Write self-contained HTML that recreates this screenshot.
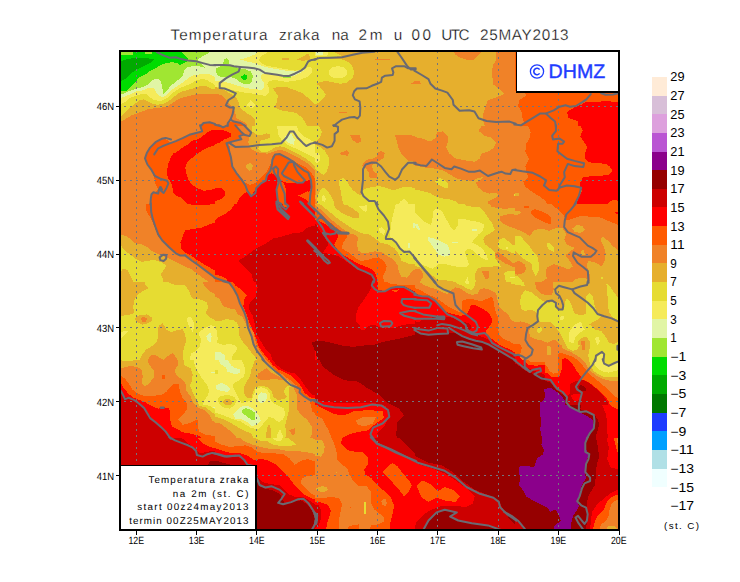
<!DOCTYPE html>
<html><head><meta charset="utf-8"><title>Temperatura zraka na 2m</title>
<style>html,body{margin:0;padding:0;background:#fff}svg{display:block}text{font-family:"Liberation Sans",sans-serif;fill:#000}</style></head>
<body>
<svg width="740" height="582" viewBox="0 0 740 582" shape-rendering="crispEdges">
<rect width="740" height="582" fill="#fff"/>
<defs>
<clipPath id="plot"><rect x="120" y="51" width="499" height="479"/></clipPath>
<clipPath id="c0"><rect x="115" y="48" width="100" height="78"/></clipPath>
<clipPath id="c1"><rect x="215" y="48" width="100" height="78"/></clipPath>
<clipPath id="c2"><rect x="315" y="48" width="100" height="78"/></clipPath>
<clipPath id="c3"><rect x="415" y="48" width="100" height="78"/></clipPath>
<clipPath id="c4"><rect x="515" y="48" width="110" height="78"/></clipPath>
<clipPath id="c5"><rect x="115" y="126" width="100" height="78"/></clipPath>
<clipPath id="c6"><rect x="215" y="126" width="100" height="78"/></clipPath>
<clipPath id="c7"><rect x="315" y="126" width="100" height="78"/></clipPath>
<clipPath id="c8"><rect x="415" y="126" width="100" height="78"/></clipPath>
<clipPath id="c9"><rect x="515" y="126" width="110" height="78"/></clipPath>
<clipPath id="c10"><rect x="115" y="204" width="100" height="78"/></clipPath>
<clipPath id="c11"><rect x="215" y="204" width="100" height="78"/></clipPath>
<clipPath id="c12"><rect x="315" y="204" width="100" height="78"/></clipPath>
<clipPath id="c13"><rect x="415" y="204" width="100" height="78"/></clipPath>
<clipPath id="c14"><rect x="515" y="204" width="110" height="78"/></clipPath>
<clipPath id="c15"><rect x="115" y="282" width="100" height="78"/></clipPath>
<clipPath id="c16"><rect x="215" y="282" width="100" height="78"/></clipPath>
<clipPath id="c17"><rect x="315" y="282" width="100" height="78"/></clipPath>
<clipPath id="c18"><rect x="415" y="282" width="100" height="78"/></clipPath>
<clipPath id="c19"><rect x="515" y="282" width="110" height="78"/></clipPath>
<clipPath id="c20"><rect x="115" y="360" width="100" height="78"/></clipPath>
<clipPath id="c21"><rect x="215" y="360" width="100" height="78"/></clipPath>
<clipPath id="c22"><rect x="315" y="360" width="200" height="172"/></clipPath>
<clipPath id="c23"><rect x="515" y="360" width="110" height="78"/></clipPath>
<clipPath id="c24"><rect x="115" y="438" width="100" height="94"/></clipPath>
<clipPath id="c25"><rect x="215" y="438" width="100" height="94"/></clipPath>
<clipPath id="c26"><rect x="515" y="438" width="110" height="94"/></clipPath>
<clipPath id="c27"><rect x="315" y="438" width="100" height="94"/></clipPath>
<clipPath id="c28"><rect x="545" y="345" width="75" height="60"/></clipPath>
</defs>
<g clip-path="url(#plot)">
<g clip-path="url(#c0)"><rect x="115" y="48" width="100" height="78" fill="#F08228"/>
<polygon fill="#E6AF2D" points="113.6,121.6 121.1,121.6 125.8,118.9 131.2,115.6 136.6,113.5 142,111.5 147.4,109.5 155.5,108.1 162.3,107.5 167.7,106.1 171.8,103.4 175.8,100.7 181.2,98 186.6,96.6 192,95.3 197.4,93.9 204.2,93.7 216.4,93.9 216.4,46.6 113.6,46.6"/>
<polygon fill="#E6DC32" points="113.6,116.2 121.1,116.2 125.8,111.5 129.9,107.5 135.3,103.4 140,100 144.1,99.4 148.1,101.4 151.5,103.4 156.9,104.8 162.3,104.1 167,102.1 171.8,98.7 175.8,95.3 180.5,91.9 185.3,90.6 190.7,89.2 196.1,87.2 201.5,85.8 206.9,86.5 210.9,88.5 216.4,89.9 216.4,46.6 113.6,46.6"/>
<polygon fill="#F5EB5A" points="113.6,104.1 121.1,104.1 125.8,101.4 129.9,98 135.3,96 142,93.9 147.4,94.6 150.8,98 154.2,100 159.6,101 163.6,100 168.4,97.3 171.8,93.9 175.8,90.6 180.5,87.9 185.3,85.8 190.7,83.8 196.1,80.4 201.5,79.1 206.9,79.8 210.9,82.5 216.4,85.6 216.4,46.6 113.6,46.6"/>
<polygon fill="#E1F5A5" points="113.6,98 121.1,98 125.8,96 131.2,93.9 136.6,91.2 142,90.6 147.4,88.5 151.5,87.9 154.2,88.5 156.2,92.6 158.2,95.3 163,97.3 167,94.6 170.4,91.2 174.5,87.9 178.5,85.2 183.9,81.8 188,78.4 192,75.7 197.4,74.8 202.8,73.9 209.6,74.4 216.4,77.5 216.4,46.6 113.6,46.6"/>
<polygon fill="#A0E632" points="113.6,94.6 121.1,94.6 127.2,91.9 132.6,89.9 137.3,88.5 142,87.2 146.8,85.2 151.5,81.1 154.2,79.1 158.2,78.4 160.9,81.1 162.3,87.2 163.4,94.6 166.4,91.2 169.1,87.9 172.4,84.5 176.5,81.1 181.2,77.7 183.2,74.4 183.9,70.3 186.6,67.6 192,66.2 196.8,65.6 201.5,66.9 204.9,67.6 202.2,64.2 197.7,62.2 198.1,59.5 202.8,56.1 208.2,53.4 210.3,50.7 210.3,46.6 113.6,46.6"/>
<polygon fill="#00DC00" points="113.6,55.8 132.6,54.8 133.9,50.7 145.4,50.7 145.4,54.5 151.5,54.1 151.8,50.7 181.2,50.7 184.6,55.4 188,58.8 186.6,61.5 182.6,63.5 179.9,64.9 176.5,62.9 171.8,62.2 167,62.9 162.3,64.2 157.6,66.9 152.8,69.6 148.1,72.3 144.7,75 139.3,77.1 136.6,80.4 133.9,83.8 129.9,87.9 125.8,91.2 121.1,91.5 113.6,91.5"/>
<polygon fill="#00AA00" points="113.6,61.5 121.1,61.5 125.8,59.5 132.6,58.1 142,57.7 154.2,59.1 151.5,62.2 146.1,64.9 140.7,67.6 135.3,70.3 129.9,74.4 125.8,78.4 121.1,81.1 113.6,81.1"/>
<polygon fill="#FF5A00" points="201.5,127.7 202.8,123.7 208.2,122.3 215,124.4 216.4,127.7"/>
</g>
<g clip-path="url(#c1)"><rect x="215" y="48" width="100" height="78" fill="#E6DC32"/>
<polygon fill="#E6AF2D" points="273.1,88.5 278.5,86.5 285.3,86.5 292,89.2 297.4,91.2 302.8,93.3 308.2,98 316.4,105.4 316.4,127.7 308.2,127.7 302.8,118.3 296.1,112.9 288,111.5 279.9,110.2 274.5,107.5 277.2,102.1 277.8,95.3 274.5,91.2"/>
<polygon fill="#E6AF2D" points="297.4,59.5 302.8,56.8 308.2,53.4 310.3,56.8 309.6,59.5 304.2,60.8 299.5,60.4"/>
<polygon fill="#E6AF2D" points="281.9,58.1 288.6,58.1 288.6,59.9 281.9,59.9"/>
<polygon fill="#E6AF2D" points="213.6,86.5 220.4,88.5 225.8,91 232.6,95 236.6,98 238.6,102.1 239.3,106.1 242,109.5 247.4,113.5 252.8,116.9 255.5,119.6 254.2,127.7 213.6,127.7"/>
<polygon fill="#F08228" points="213.6,93.9 220.4,94.6 225.1,98 229.9,104.8 233.2,107.5 235.3,112.9 236.6,118.3 242,121 246.8,123.7 248.1,127.7 213.6,127.7"/>
<polygon fill="#FF5A00" points="227.8,127.7 228.5,122.3 233.9,121.6 240.7,123 245.4,125.7 246.1,127.7"/>
<polygon fill="#FF5A00" points="213.6,123.7 219.1,123.7 220.4,127.7 213.6,127.7"/>
<polygon fill="#F5EB5A" points="213.6,86.5 220.4,87.2 225.8,88.5 232.6,90.2 239.3,91.5 246.1,92.9 254.2,93.7 260.9,95 265.3,96 268.4,93.9 269.3,88.5 267,84.5 269.1,81.1 274.5,79.8 281.2,81.1 286.6,81.8 293.4,81.1 300.1,79.8 306.9,77.1 311.6,73 312.6,68.9 309.6,66.6 305.5,68.3 301.5,69.9 294.7,70.7 288,69.6 279.9,68 271.8,66.6 265,65.3 260.9,62.9 258.9,59.5 261.6,56.1 265.7,53.4 268.4,50.7 213.6,50.7"/>
<polygon fill="#F5EB5A" points="250.8,100 255.5,104.8 252.2,108.8 246.8,105.4"/>
<polygon fill="#E1F5A5" points="213.6,80.4 220.4,81.1 227.2,82.5 233.9,84.5 240.7,86.5 247.4,88.3 255.5,89.2 261.6,89.9 264.3,87.2 263.6,82.5 260.9,78.4 261.6,75 265,73 271.8,74.4 278.5,75.7 285.3,77.1 290.7,77.1 296.1,75 301.5,72.3 304.9,69.6 301.5,69.6 294.7,71.2 288,71 279.9,69.6 271.8,68.3 265,66.9 259.6,64.9 254.2,63.1 247.4,61.5 240,59.5 247.4,57.5 254.2,54.8 257.6,52.1 257.6,50.7 213.6,50.7"/>
<polygon fill="#A0E632" points="223.1,63.5 224.5,59.5 226.5,58.1 228.5,60.2 229.2,63.5"/>
<polygon fill="#A0E632" points="216.4,68.3 220.4,66.2 227.2,65.6 233.9,66.2 239.3,68.3 246.1,69.6 250.8,71.6 252.8,75.7 252.2,81.1 248.8,84.2 244.1,84.2 239.3,81.8 235.3,78.4 229.9,77.1 225.8,77.1 221.8,77.1 217.7,75.7 216.1,72.3"/>
<polygon fill="#A0E632" points="282.6,76.1 290.7,76.1 290.7,78 282.6,77.5"/>
<polygon fill="#00DC00" points="240.7,77.1 244.1,74.4 246.8,75 247.2,78.4 244.7,80.2 242,79.1"/>
</g>
<g clip-path="url(#c2)"><rect x="315" y="48" width="100" height="78" fill="#E6AF2D"/>
<polygon fill="#E6DC32" points="313.6,58.8 323.1,58.8 332.6,58.8 342,59.5 348.8,62.2 352.8,66.9 354.2,73 352.2,78.4 346.8,82.5 340.7,83.8 333.9,82.5 327.2,81.1 320.4,81.8 317,83.8 313.6,84.5"/>
<polygon fill="#E6DC32" points="313.6,50.7 331.2,50.7 342,56.1 328.5,57.2 313.6,57.7"/>
<polygon fill="#F5EB5A" points="313.6,51.8 328.5,52.1 327.8,55.4 320.4,56.1 313.6,56.4"/>
<polygon fill="#E1F5A5" points="315.7,52.3 323.1,52.3 322.8,54.8 316.1,55"/>
<polygon fill="#F5EB5A" points="347.4,72.3 346.7,74.7 344.7,76.6 341.6,77.9 338,78.4 334.4,77.9 331.3,76.6 329.2,74.7 328.5,72.3 329.2,70 331.3,68 334.4,66.7 338,66.2 341.6,66.7 344.7,68 346.7,70"/>
<polygon fill="#E6DC32" points="313.6,82.5 318.4,85.2 323.1,90.6 325.8,94.6 323.1,98.7 319.1,102.7 313.6,104.8"/>
<polygon fill="#F08228" points="374.5,59.1 390,59.1 390,59.9 374.5,59.9"/>
<polygon fill="#F08228" points="339.3,112.1 346.8,112.1 346.8,112.9 339.3,112.9"/>
<polygon fill="#F08228" points="410.9,83.8 415.7,80.4 415.7,83.8"/>
</g>
<g clip-path="url(#c3)"><rect x="415" y="48" width="100" height="78" fill="#E6AF2D"/>
<polygon fill="#F08228" points="452.8,50.7 482.6,50.7 478.5,54.8 473.8,59.5 466.4,59.5 459.6,57.5 455.5,54.8"/>
<polygon fill="#F08228" points="496.1,50.7 516.4,50.7 516.4,127.7 485.3,127.7 483.2,121 483.2,114.2 485.9,106.1 487.3,100.7 496.1,97.3 504.9,93.9 498.8,88.5 493.4,84.5 492,75 492.7,65.6 496.1,60.2"/>
<polygon fill="#F08228" points="414.3,81.1 419.7,81.5 421.1,84.5 414.3,84.2"/>
</g>
<g clip-path="url(#c4)"><rect x="515" y="48" width="110" height="78" fill="#FF5A00"/>
<polygon fill="#FF0000" points="567,111.9 574.5,107.5 581.9,104.5 586.4,101.5 598.2,102.3 604.2,100.8 619.1,102.3 619.1,127.5 578.9,127.5 577.4,120.8 568.5,117.9"/>
<polygon fill="#F08228" points="513.5,91.1 523.9,91.1 526.1,95.6 519.5,100 518,106 521.7,111.9 522.4,117.9 523.9,122.3 520.9,127.5 513.5,127.5"/>
</g>
<g clip-path="url(#c5)"><rect x="115" y="126" width="100" height="78" fill="#F08228"/>
<polygon fill="#FF5A00" points="216.4,124.6 201.5,124.6 202.2,131.4 196.1,133.4 189.3,134.8 182.6,138.2 175.8,141.5 170.4,142.9 166.4,139.5 160.9,138.8 155.5,142.2 150.1,147.6 146.8,153 145.4,159.1 147.4,165.2 151.5,170.6 154.2,177.4 155.5,184.1 158.2,189.5 155.5,192.2 152.2,193.6 151.5,199 150.8,205.7 216.4,205.7"/>
<polygon fill="#FF0000" points="216.4,129.4 209.6,130.7 204.2,134.8 198.8,138.8 192,140.9 188,144.2 182.6,147.6 177.2,151.7 173.1,153.7 170.4,158.4 168.4,163.8 167,170.6 167.7,177.4 170.4,181.4 172.4,186.8 173.1,192.2 175.8,195.6 181.2,197.6 185.3,201.7 189.3,205.7 216.4,205.7"/>
<polygon fill="#FF5A00" points="216.4,144.9 209.6,146.9 202.8,150.3 196.1,154.4 190.7,159.1 186.6,163.2 185.3,167.9 186.6,174.6 188.6,180.1 192,184.8 197.4,188.2 204.2,190.9 212.3,189.5 216.4,188.2"/>
</g>
<g clip-path="url(#c6)"><rect x="215" y="126" width="100" height="78" fill="#FF5A00"/>
<polygon fill="#FF0000" points="213.6,130.1 223.1,130.1 231.2,133.4 230.5,136.8 224.5,139.5 219.1,142.9 213.6,144.9"/>
<polygon fill="#FF0000" points="213.6,187.5 220.4,187.5 224.5,190.9 224.5,196.3 220.4,199.6 213.6,201.7"/>
<polygon fill="#FF0000" points="235.3,205.7 240.7,196.3 246.1,192.2 251.5,194.9 255.5,189.5 260.9,184.1 266.4,180.1 267.7,175.3 271.8,173.3 275.8,176 278.5,180.1 282.6,181.4 286.6,182.8 296.1,183.4 304.2,181.4 309.6,180.1 312.3,184.1 309.6,190.9 306.9,199 309.6,205.7"/>
<polygon fill="#FF5A00" points="276.5,182.8 279.9,180.7 283.9,182.8 285.9,189.5 285.9,205.7 278.5,205.7 276.5,193.6"/>
<polygon fill="#FF5A00" points="298.1,195.6 303.6,193.2 308,190.7 309.6,193.6 310.3,201.1 304.9,199.2"/>
<polygon fill="#F08228" points="235.3,124.6 240,131.4 244.1,134.8 239.3,136.8 240.7,139.5 233.9,141.5 229.2,144.2 230.5,153 231.9,159.8 233.2,166.5 236.6,171.9 241.4,178 245.4,182.8 250.1,184.8 255.5,182.8 262.3,176.7 266.4,171.9 269.1,166.5 272.4,161.1 271.8,157.1 275.1,153.7 279.9,153.7 288,157.8 296.1,162.5 304.2,166.5 309.6,170.6 313.6,176 316.4,181.4 316.4,124.6"/>
<polygon fill="#E6AF2D" points="244.1,124.6 247.4,128.7 250.8,132.1 249.5,136.8 248.1,142.2 250.1,147.6 254.2,151 260.9,153 267.7,153.7 271.8,152.4 277.2,150.3 282.6,150.3 289.3,153 296.1,156.4 304.2,161.1 310.9,165.9 316.4,171.9 316.4,124.6"/>
<polygon fill="#E6AF2D" points="245.4,165.2 250.1,162.8 252.8,165.2 252.2,169.2 249.5,170.9 246.8,168.6"/>
<polygon fill="#E6DC32" points="251.5,124.6 252.2,131.4 255.5,134.1 260.9,135.5 266.4,133.4 270.4,134.1 270.4,137.5 265,139.5 259.6,140.9 259.6,146.3 258.2,149 261.6,151.7 266.4,152.4 270.4,150.3 274.5,147.6 279.9,146.3 285.3,147.6 290.7,150.3 298.8,154.4 306.9,159.1 312.3,163.8 316.4,167.9 316.4,124.6"/>
<polygon fill="#F5EB5A" points="277.2,124.6 277.8,134.1 281.2,139.5 286.6,144.2 293.4,147.6 301.5,151 309.6,155.1 316.4,159.1 316.4,143.6 309.6,139.5 302.8,135.5 298.8,131.4 296.1,124.6"/>
<polygon fill="#E1F5A5" points="284.6,136.1 291.4,134.1 294.7,139.5 294.1,144.9 288,142.9 284.6,139.5"/>
</g>
<g clip-path="url(#c7)"><rect x="315" y="126" width="100" height="78" fill="#E6AF2D"/>
<polygon fill="#F08228" points="350.1,135.2 360.3,135.2 360.9,142.2 356.2,142.9 352.2,139.5"/>
<polygon fill="#F08228" points="340,153 346.8,150.1 348.8,152.4 348.1,155.7 342,155.1"/>
<polygon fill="#F08228" points="394.7,135.2 409.6,135.2 416.4,136.1 416.4,161.8 408.2,161.1 402.8,155.7 398.8,149 396.8,140.9"/>
<polygon fill="#F08228" points="361.6,165.9 366.4,159.8 373.1,158.4 377.2,156.4 377.8,152.4 381.2,151 384.6,153 383.9,157.8 379.9,160.5 376.5,162.5 371.8,165.2 373.1,170.6 376.5,173.3 377.2,178 369.7,178 368.4,171.9 365.7,167.9"/>
<polygon fill="#F08228" points="313.6,180.1 315.8,181.7 315.8,190.2 315.3,198.7 317,203.6 319.1,206.4 313.6,206.4"/>
<polygon fill="#E6DC32" points="313.6,124.6 318.4,124.6 321.8,131.4 320.4,136.8 317,140.9 313.6,142.2"/>
<polygon fill="#E6DC32" points="313.6,143.6 319.1,146.3 324.5,150.3 328.5,157.1 329.2,163.8 327.2,170.6 323.8,175.3 319.1,171.9 313.6,167.9"/>
<polygon fill="#F5EB5A" points="320,157.8 319.8,159.8 319.1,161.6 318.2,162.8 317,163.2 315.9,162.8 314.9,161.6 314.3,159.8 314.1,157.8 314.3,155.7 314.9,153.9 315.9,152.8 317,152.4 318.2,152.8 319.1,153.9 319.8,155.7"/>
<polygon fill="#E6DC32" points="317,205.7 317.7,194.9 321.1,189.5 323.8,187.5 327.8,190.9 331.2,196.3 333.9,201.7 334.6,205.7"/>
<polygon fill="#F5EB5A" points="321.8,196.3 323.8,194.9 325.8,199 325.1,201.7 322.4,201"/>
<polygon fill="#E6DC32" points="338.6,180.1 343.4,178 346.8,180.7 349.5,185.5 352.8,190.2 358.2,194.2 360.9,195.6 362.3,190.9 366.4,188.2 373.1,186.8 379.9,186.1 385.3,187.5 390.7,189.5 396.1,189.5 401.5,187.5 408.2,186.8 416.4,188.2 416.4,205.7 343.4,205.7 342,199 340.7,190.9 339.3,185.5"/>
<polygon fill="#F5EB5A" points="397.4,205.7 400.1,201.7 404.2,199 407.6,201.7 408.9,205.7"/>
</g>
<g clip-path="url(#c8)"><rect x="415" y="126" width="100" height="78" fill="#F08228"/>
<polygon fill="#E6AF2D" points="413.6,124.6 482.6,124.6 478.5,130.7 483.9,135.5 490.7,137.5 496.1,142.2 493.4,148.3 488,151.7 481.2,153.7 479.9,158.4 474.5,161.8 466.4,160.5 455.5,158.4 448.8,153 446.1,147.6 448.1,140.9 447.4,135.5 443.4,131.4 437.3,132.1 435.3,138.2 429.9,141.5 423.1,138.8 413.6,136.8"/>
<polygon fill="#E6AF2D" points="413.6,165.2 420.4,166.5 427.2,167.9 435.3,168.6 443.4,170.6 450.1,174.6 455.5,178 463.6,180.1 471.8,180.7 478.5,178 483.9,176.7 479.9,180.1 475.8,182.8 478.5,187.5 482.6,191.5 489.3,193.6 496.1,192.9 498.8,195.6 493.4,199 488,201.7 488,205.7 413.6,205.7"/>
<polygon fill="#E6DC32" points="435.3,181.4 440,178 444.7,180.1 448.1,184.1 447.4,188.8 440.7,186.1 437.3,184.1"/>
<polygon fill="#E6DC32" points="413.6,189.5 421.8,190.9 429.9,192.9 435.3,196.3 442,198.3 450.1,199.6 456.9,201.7 459.6,205.7 413.6,205.7"/>
<polygon fill="#E6DC32" points="513.6,194.2 515.7,194.2 515.7,196.3 513.6,196.3"/>
</g>
<g clip-path="url(#c9)"><rect x="515" y="126" width="110" height="78" fill="#FF5A00"/>
<polygon fill="#F08228" points="513.5,124.5 527.6,124.5 530.6,131.9 529.9,137.9 526.1,143.8 525.4,151.3 529.1,158.7 525.4,166.1 526.1,172.1 528.4,177.3 523.2,181.7 525.4,186.9 531.4,191.4 538.8,195.9 544.7,200.3 548.4,205.5 513.5,205.5"/>
<polygon fill="#E6AF2D" points="513.5,192.9 518.7,193.2 519.2,195.9 513.5,196.2"/>
<polygon fill="#FF0000" points="580.4,124.5 582.6,130.5 580.4,136.4 583.4,140.9 587.1,146.8 584.9,153.5 585.6,159.4 589.3,162.4 598.2,163.2 605.7,163.9 610.1,166.9 612.4,170.6 608.7,175.1 598.2,175.8 589.3,176.5 582.6,177.3 580.4,182.5 580.4,186.9 581.9,191.4 578.9,197.4 575.9,205.5 619.1,205.5 619.1,124.5"/>
<polygon fill="#FF5A00" points="605.7,205.5 610.1,201.1 614.6,199.6 619.1,201.1 619.1,205.5"/>
</g>
<g clip-path="url(#c10)"><rect x="115" y="204" width="100" height="78" fill="#F08228"/>
<polygon fill="#FF5A00" points="146.1,202.6 146.1,210.8 149.5,216.2 152.8,222.9 155.5,229.7 158.2,236.4 162.3,241.2 167.7,245.9 173.1,250.6 178.5,254.7 185.3,255.4 192,260.1 198.8,264.8 206.9,270.9 216.4,277.6 216.4,202.6"/>
<polygon fill="#FF0000" points="216.4,222.2 209.6,224.3 201.5,227.6 193.4,229 185.3,230.4 182.6,236.4 180.5,242.5 181.2,248.6 185.3,252.6 190.7,255.4 196.1,259.4 202.8,263.5 209.6,267.5 216.4,271.6"/>
<polygon fill="#FF0000" points="190.7,202.6 209.6,202.6 209.6,205.1 190.7,205.1"/>
<polygon fill="#E6AF2D" points="113.6,235.8 121.1,234.8 127.2,236.4 131.2,239.8 135.3,243.2 142,244.5 147.4,247.2 151.5,250.6 156.9,253.3 162.3,256 167.7,258.1 173.1,260.8 178.5,263.5 183.9,266.2 190.7,268.9 196.1,272.9 201.5,277 206.9,280.4 209.6,283.7 113.6,283.7"/>
<polygon fill="#E6DC32" points="113.6,244.5 121.1,245.9 125.8,251.3 131.2,255.4 136.6,259.4 142,262.1 147.4,260.8 154.2,260.1 160.9,262.1 166.4,265.5 163.6,270.2 160.9,274.3 163,279.7 162.3,283.7 113.6,283.7"/>
<polygon fill="#E6AF2D" points="121.1,271.6 123.1,268.6 127.8,270.2 131.2,277 133.9,283.7 121.1,283.7"/>
</g>
<g clip-path="url(#c11)"><rect x="215" y="204" width="100" height="78" fill="#FF0000"/>
<polygon fill="#FF5A00" points="213.6,202.6 235.3,202.6 231.2,209.4 225.8,213.5 220.4,216.2 213.6,220.9"/>
<polygon fill="#CD0000" points="238,260.8 246.1,256 254.2,249.9 259.6,246.6 266.4,243.2 273.1,238.5 282.6,236.4 293.4,233.1 301.5,232.4 308.2,227 316.4,225.6 316.4,283.7 254.2,283.7 251.5,274.3 244.7,266.8"/>
<polygon fill="#FF5A00" points="213.6,274.9 220.4,275.6 225.8,278.3 229.2,283.7 213.6,283.7"/>
<polygon fill="#FF5A00" points="281.9,203.3 288,203.3 287.3,207.4 283.9,206.7"/>
<polygon fill="#FF5A00" points="308.2,203.3 315.7,203.3 315.7,211.4 311.6,208.1"/>
</g>
<g clip-path="url(#c12)"><rect x="315" y="204" width="100" height="78" fill="#E6DC32"/>
<polygon fill="#F5EB5A" points="396.1,202.6 394.1,210.8 392,218.9 390.7,228.3 390,236.4 393.4,239.1 397.4,244.5 402.8,249.9 409.6,251.3 416.4,256.7 416.4,202.6"/>
<polygon fill="#E1F5A5" points="413,222.9 415.7,222.9 415.7,228.3 413.4,227.6"/>
<polygon fill="#E1F5A5" points="408.2,242.5 409.9,242.5 409.9,247.9 408.2,247.9"/>
<polygon fill="#F5EB5A" points="358.2,206 367,205.4 366.4,212.8 361.6,209.4"/>
<polygon fill="#F5EB5A" points="378.5,229 381.2,227 385.3,231 383.9,235.1 379.9,232.4"/>
<polygon fill="#E6AF2D" points="313.6,202.6 317.7,202.6 323.1,206.7 329.9,212.1 338,218.9 346.1,224.3 354.2,229.7 360.9,233.1 369.1,234.4 374.5,237.8 379.9,242.5 388,244.5 394.7,248.6 398.8,254 401.5,260.8 408.2,263.5 416.4,263.5 416.4,283.7 313.6,283.7"/>
<polygon fill="#E6AF2D" points="333.9,204 339.3,203.3 347.4,205.4 354.2,209.4 358.9,213.5 359.6,218.2 354.2,218.2 347.4,215.5 340.7,212.1 335.3,208.1"/>
<polygon fill="#F08228" points="313.6,204 315,204.7 320.4,209.4 327.2,216.2 335.3,222.9 342,228.3 348.8,233.1 355.5,235.1 358.2,237.8 356.9,244.5 358.2,250.6 362.3,253.3 369.1,252.6 374.5,251.3 381.2,252 386.6,255.4 393.4,259.4 397.4,264.8 398.8,271.6 401.5,277 406.9,277.6 410.9,272.9 413.6,270.2 416.4,270.2 416.4,283.7 313.6,283.7"/>
<polygon fill="#FF5A00" points="313.6,208.1 315,208.1 320.4,213.5 327.2,219.5 333.9,225.6 340.7,230.4 346.8,234.4 346.8,237.8 342.7,243.2 342,248.6 348.8,252.6 355.5,258.1 360.9,260.8 367.7,260.1 373.1,258.1 378.5,257.4 383.9,260.8 386.6,266.2 385.3,271.6 383.2,275.6 383.9,283.7 313.6,283.7"/>
<polygon fill="#FF0000" points="313.6,220.2 315,220.2 320.4,221.6 325.8,224.3 331.2,228.3 335.3,231.7 338,235.1 337.3,239.1 333.9,244.5 338,250.6 343.4,255.4 348.8,258.1 354.2,261.4 360.9,264.8 367.7,267.5 373.1,270.2 375.8,274.3 377.2,279.7 375.8,283.7 313.6,283.7"/>
<polygon fill="#CD0000" points="313.6,222.9 315,222.9 319.1,229.7 323.1,235.1 327.2,241.8 328.5,244.5 324.5,249.9 323.1,252.6 329.9,254 338,256 343.4,259.4 350.1,264.1 355.5,268.2 362.3,270.9 369.1,274.3 373.1,277.6 374.5,283.7 313.6,283.7"/>
</g>
<g clip-path="url(#c13)"><rect x="415" y="204" width="100" height="78" fill="#E6DC32"/>
<polygon fill="#F5EB5A" points="413.6,210.8 419.1,216.2 424.5,221.6 431.2,224.9 432.6,217.5 433.2,210.8 437.3,208.1 442.7,212.1 446.8,220.2 451.5,228.3 454.9,230.4 458.2,224.3 458.2,218.9 463.6,218.9 471.8,220.9 479.9,222.2 483.9,224.3 483.2,230.4 478.5,234.4 474.5,239.1 471.8,242.5 477.2,245.2 482.6,248.6 486.6,255.4 488.6,260.1 483.9,259.4 478.5,255.4 473.1,250.6 468.4,248.6 465,252 467,258.1 469.1,264.8 466.4,267.5 459.6,266.8 452.8,266.2 446.1,264.1 439.3,263.5 432.6,268.9 425.8,266.2 419.1,263.5 413.6,260.8"/>
<polygon fill="#E1F5A5" points="427.8,237.1 433.9,238.5 442,241.8 447.4,244.5 449.5,249.9 449.5,255.4 444.7,256.7 438.6,254.7 435.3,249.9 431.2,244.5 428.5,240.5"/>
<polygon fill="#E1F5A5" points="414.3,224.3 417.7,224.3 420.4,230.4 417,229"/>
<polygon fill="#E1F5A5" points="471.8,229 477.2,229 476.5,231 471.8,230.8"/>
<polygon fill="#E1F5A5" points="452.2,241.8 457.6,241.8 457.6,243.2 452.2,243.2"/>
<polygon fill="#F5EB5A" points="465.7,279.7 467.7,277 469.1,283.7 465,283.7"/>
<polygon fill="#E6AF2D" points="462.3,202.6 466.4,206 473.1,206.7 479.9,207.4 483.9,211.4 488,217.5 492,222.9 494.7,229.7 490.7,233.1 485.3,235.8 483.2,239.8 485.3,244.5 490.7,248.6 494.7,252.6 494.7,258.1 498.8,263.5 501.5,266.8 496.1,266.2 489.3,266.8 482.6,266.8 477.2,268.9 475.1,274.3 475.8,283.7 516.4,283.7 516.4,202.6"/>
<polygon fill="#E6DC32" points="497.4,243.9 500.1,239.1 504.2,237.8 508.2,241.2 512.3,244.5 516.4,245.9 516.4,254 512.3,253.3 506.9,250.6 501.5,249.3 498.1,247.2"/>
<polygon fill="#E6DC32" points="504.2,272.9 508.2,270.9 513.6,270.9 516.4,271.6 516.4,283.7 506.9,283.7 504.9,278.3"/>
<polygon fill="#F5EB5A" points="505.5,247 508.2,247 508.2,248.9 505.5,248.9"/>
<polygon fill="#F5EB5A" points="509.6,277 515.7,277 515.7,278.1 509.6,278.1"/>
<polygon fill="#F08228" points="489.3,202.6 491.4,206.7 497.4,208.1 504.2,208.7 516.4,208.1 516.4,202.6"/>
<polygon fill="#F08228" points="499.5,216.8 504.2,214.8 510.9,214.1 516.4,214.8 516.4,228.3 509.6,227 504.2,224.3 500.1,220.9"/>
<polygon fill="#F08228" points="494.7,253.3 498.1,252 502.8,255.4 508.2,259.4 512.3,262.8 516.4,263.5 516.4,267.5 510.9,266.2 505.5,263.5 500.1,260.1 496.1,257.4"/>
<polygon fill="#F08228" points="481.9,270.9 488.6,270.9 489.1,278.3 485.3,279 483.2,274.9"/>
<polygon fill="#E6AF2D" points="413.6,265.5 420.4,267.5 427.2,270.9 432.6,275.6 438,279.7 446.1,280.4 452.8,281 455.5,283.7 413.6,283.7"/>
<polygon fill="#F08228" points="413.6,269.5 419.1,268.9 422.4,272.2 423.1,277 420.4,281 416.4,283.7 413.6,283.7"/>
</g>
<g clip-path="url(#c14)"><rect x="515" y="204" width="110" height="78" fill="#F08228"/>
<polygon fill="#FF5A00" points="549.2,202.5 556.6,208.5 564.1,215.9 567,220.4 574.5,218.1 580.4,215.9 589.3,216.6 598.2,216.6 607.2,220.4 619.1,225.3 619.1,202.5"/>
<polygon fill="#FF5A00" points="530.6,211.4 535.1,209.2 541.8,211.4 547.7,214.4 551.4,218.1 551.4,224.1 547,223.3 541,220.4 535.1,217.4 531.4,214.4"/>
<polygon fill="#FF5A00" points="523.9,205.8 529.1,206.2 528.4,208.2 523.9,207.7"/>
<polygon fill="#FF0000" points="615.3,212.2 619.1,212.2 619.1,214.4 616.1,214.1"/>
<polygon fill="#E6AF2D" points="513.5,228.5 520.9,230.8 529.9,236 534.3,230 541,228.5 549.2,230.8 556.6,227.8 562.6,228.5 566.3,233.7 564.1,239.7 567,244.9 574.5,247.9 570,251.6 565.5,255.3 570,261.2 573,266.4 568.5,269.4 561.1,266.4 553.7,264.2 547,267.2 545.5,273.9 547,278.3 538.8,283.5 513.5,283.5"/>
<polygon fill="#F08228" points="513.5,262 519.5,261.2 524.7,264.2 526.1,269.4 523.9,273.1 518,274.6 513.5,273.9"/>
<polygon fill="#E6AF2D" points="572.2,228.5 577.4,224.8 582.6,226.3 584.9,230 580.4,233 574.5,231.5"/>
<polygon fill="#E6AF2D" points="581.2,250.8 583.4,249.3 584.9,254.5 581.2,255.3"/>
<polygon fill="#E6AF2D" points="600.5,239.7 602.7,236.7 608.7,241.2 613.1,246.4 619.1,250.8 619.1,283.5 589.3,283.5 590.1,275.4 587.1,266.4 587.8,260.5 595.3,262.7 602,266.4 604.9,260.5 605.7,253.1 603.4,245.6"/>
<polygon fill="#E6AF2D" points="571.5,283.5 574.5,279.8 580.4,277.6 586.4,278.3 587.8,283.5"/>
<polygon fill="#E6AF2D" points="513.5,210.7 519.5,210.7 521.7,212.9 518,214.7 513.5,214.4"/>
<polygon fill="#E6DC32" points="513.5,236 520.9,236 524.7,241.2 529.9,246.4 532.8,251.6 537.3,256 538.8,263.5 538.8,270.9 535.8,276.8 532.1,269.4 531.4,263.5 523.9,259 518,253.1 513.5,250.1"/>
<polygon fill="#E6DC32" points="547,243.4 549.9,242.9 554.4,248.6 553.7,251.9 548.4,249.3 547,246.4"/>
<polygon fill="#E6DC32" points="513.5,275.4 518.7,276.8 522.4,280.6 521.7,283.5 513.5,283.5"/>
<polygon fill="#E6DC32" points="600.9,276.8 603,276.8 603,279.1 600.9,279.1"/>
</g>
<g clip-path="url(#c15)"><rect x="115" y="282" width="100" height="78" fill="#E6DC32"/>
<polygon fill="#E6AF2D" points="113.6,280.6 144.1,280.6 145.4,284.7 148.8,288.1 143.4,290.8 138,294.2 134.6,299.6 133.2,306.3 133.9,313.1 128.5,315.1 121.1,315.8 113.6,315.8"/>
<polygon fill="#E6AF2D" points="166.4,280.6 171.8,284 178.5,285.4 185.3,285.4 188.6,290.1 190.7,295.5 193.4,298.9 201.5,299.6 206.9,302.3 208.2,307.7 205.5,313.1 209.6,317.1 216.4,320.5 216.4,280.6"/>
<polygon fill="#E6AF2D" points="134.6,318.5 139.3,315.1 146.8,314.4 151.5,317.1 151.5,321.2 146.8,323.9 142,324.6 137.3,321.9"/>
<polygon fill="#F08228" points="140.7,319.2 143.4,316.5 146.8,318.5 146.1,321.9 142.7,321.9"/>
<polygon fill="#F08228" points="202.2,280.6 204.2,286.1 209.6,291.5 216.4,294.8 216.4,280.6"/>
<polygon fill="#E6AF2D" points="138.6,361.7 142,355 146.1,349.6 152.8,345.5 156.9,341.5 158.2,336.1 157.6,329.3 159.6,325.2 162.3,323.2 165,326.6 166.4,330 171.8,332 177.2,330 182.6,329.3 185.3,334.7 185.9,341.5 183.9,348.2 182.6,355 183.2,361.7"/>
<polygon fill="#F08228" points="147.4,361.7 150.1,355.6 155.5,355 159.6,357.7 163.6,359.7 168.4,355.6 173.1,352.9 175.8,357 178.5,361.7"/>
<polygon fill="#F5EB5A" points="186.6,317.8 190.7,317.1 193.4,321.2 194.1,326.6 192.7,332 190.7,328.6 188,323.9"/>
<polygon fill="#F5EB5A" points="198.8,332 204.2,328.6 210.9,325.2 216.4,326.6 216.4,361.7 190,361.7 190.7,353.6 196.1,350.9 199.5,346.9 201.5,340.1 199.5,336.1"/>
<polygon fill="#E1F5A5" points="206.2,336.1 210.3,332 211.6,336.1 210.9,342.8 207.6,340.1"/>
<polygon fill="#F5EB5A" points="120.4,332 128.5,330.6 120.4,338.8"/>
</g>
<g clip-path="url(#c16)"><rect x="215" y="282" width="100" height="78" fill="#CD0000"/>
<polygon fill="#FF0000" points="255.5,280.6 257.6,287.4 255.5,296.9 248.8,304.3 248.8,309 252.8,315.8 254.9,325.2 256.9,334.7 260.9,341.5 265,348.2 270.4,353.6 273.1,361.7 213.6,361.7 213.6,280.6"/>
<polygon fill="#FF5A00" points="231.2,280.6 235.3,285.4 242,290.1 246.8,295.5 244.1,299.6 243.4,306.3 246.1,313.1 248.8,321.2 251.5,327.9 254.9,334.7 256.9,341.5 259.6,348.2 263.6,353.6 267.7,358.4 269.1,361.7 213.6,361.7 213.6,280.6"/>
<polygon fill="#F08228" points="227.8,280.6 231.2,284.7 235.3,291.5 238.6,298.2 241.4,305 244.1,312.4 247.4,321.2 249.5,326.6 253.5,332 254.9,338.8 256.9,345.5 260.3,351.6 264.3,357 267,361.7 213.6,361.7 213.6,280.6"/>
<polygon fill="#E6AF2D" points="213.6,296.2 219.1,298.2 223.1,306.3 229.9,308.4 235.3,309.7 238,314.4 242,316.5 245.4,322.5 247.4,328.6 250.8,336.1 252.2,342.8 255.5,349.6 259.6,355 264.3,361.7 213.6,361.7"/>
<polygon fill="#E6DC32" points="213.6,321.2 220.4,321.2 225.8,319.2 232.6,319.8 236.6,322.5 239.3,327.9 238.6,334.7 241.4,340.1 246.1,345.5 250.1,350.9 254.2,355.6 258.2,361.7 213.6,361.7"/>
<polygon fill="#F5EB5A" points="213.6,327.9 217,330.6 217.7,338.8 217,342.8 223.1,344.8 229.9,344.2 233.9,344.8 237.3,348.2 235.3,352.3 232.6,355.6 231.2,361.7 213.6,361.7"/>
<polygon fill="#E1F5A5" points="213.6,352.3 220.4,352.3 224.5,355 225.8,361.7 213.6,361.7"/>
<polygon fill="#960000" points="311.6,342.1 316.4,342.1 316.4,350.9 314.3,349.6"/>
</g>
<g clip-path="url(#c17)"><rect x="315" y="282" width="100" height="78" fill="#CD0000"/>
<polygon fill="#FF0000" points="373.1,280.6 371.1,287.4 367.7,294.2 363,300.9 358.2,307.7 356.2,314.4 356.2,321.2 359.6,325.2 360.9,330.6 365.7,329.3 369.1,325.9 373.1,324.6 378.5,326.6 385.3,328.6 393.4,327.9 401.5,325.2 409.6,323.9 416.4,323.9 416.4,280.6"/>
<polygon fill="#FF5A00" points="377.8,280.6 378.5,290.1 385.3,290.8 390.7,288.1 397.4,286.1 404.2,286.1 409.6,288.8 416.4,292.1 416.4,280.6"/>
<polygon fill="#FF5A00" points="390.7,290.1 398.8,289.4 396.1,292.1"/>
<polygon fill="#F08228" points="385.3,280.6 390.7,284 398.8,284.7 406.9,284.7 416.4,284.7 416.4,280.6"/>
<polygon fill="#960000" points="313.6,340.8 321.8,340.8 331.2,342.8 342,345.5 352.8,346.9 363.6,345.5 374.5,344.8 382.6,342.1 392,340.1 401.5,338.1 409.6,336.1 416.4,334.7 416.4,361.7 313.6,361.7"/>
<polygon fill="#FF0000" points="313.6,350.9 316.1,351.6 317,361.7 313.6,361.7"/>
</g>
<g clip-path="url(#c18)"><rect x="415" y="282" width="100" height="78" fill="#E6AF2D"/>
<polygon fill="#E6DC32" points="455.5,280.6 456.9,284 462.3,285.4 467,288.8 471.8,290.1 474.5,286.1 475.8,280.6"/>
<polygon fill="#F5EB5A" points="465,281.3 469.1,281.3 468.4,284.7 465.7,284"/>
<polygon fill="#E6DC32" points="510.9,281.3 515.7,281.3 515.7,283.6 510.9,283.6"/>
<polygon fill="#F08228" points="413.6,280.6 417.7,280.6 423.1,284.7 429.9,287.4 436.6,289.4 442,292.1 447.4,294.2 451.5,290.1 455.5,287.4 460.9,288.8 466.4,292.8 471.8,294.8 477.2,294.2 479.9,289.4 483.9,288.1 490.7,290.1 496.1,293.5 497.4,299.6 498.8,306.3 502.8,310.4 508.2,314.4 510.9,319.8 516.4,322.5 516.4,361.7 413.6,361.7"/>
<polygon fill="#FF5A00" points="413.6,287.4 420.4,290.1 427.2,294.2 433.9,296.9 440.7,300.9 446.1,305 451.5,308.4 456.9,311.1 461.6,312.4 462.3,306.3 462.3,300.9 467.7,298.9 474.5,299.6 481.2,301.6 486.6,298.9 492,296.9 494.1,302.3 494.7,309 497.4,315.8 498.8,322.5 497.4,327.9 499.5,334.7 502.8,338.8 509.6,341.5 516.4,345.5 516.4,361.7 413.6,361.7"/>
<polygon fill="#FF0000" points="413.6,292.1 420.4,295.5 427.2,296.9 433.9,299.6 438,303.6 442,308.4 447.4,312.4 454.2,314.4 460.9,315.8 466.4,314.4 469.1,310.4 470.4,305.6 474.5,305 479.9,307.7 485.3,310.4 489.3,313.8 492,318.5 491.4,323.9 488,328.6 485.3,332 488,336.1 493.4,340.1 498.8,344.2 505.5,347.5 512.3,350.9 516.4,353.6 516.4,361.7 413.6,361.7"/>
<polygon fill="#CD0000" points="413.6,320.5 419.1,322.5 421.8,319.8 428.5,317.8 436.6,317.1 444.7,316.5 450.1,317.1 455.5,319.2 460.9,321.2 466.4,322.5 470.4,323.9 471.1,327.9 469.1,330.6 474.5,333.4 479.9,336.1 485.3,338.1 490.7,341.5 497.4,345.5 504.2,349.6 510.9,353.6 516.4,357 516.4,361.7 413.6,361.7"/>
<polygon fill="#960000" points="413.6,331.3 420.4,334 428.5,335.4 438,334.7 447.4,333.4 454.2,332.7 459.6,335.4 466.4,338.8 473.1,340.8 479.9,342.1 486.6,344.2 493.4,347.5 500.1,350.9 506.9,355 512.3,358.4 516.4,361.7 413.6,361.7"/>
</g>
<g clip-path="url(#c19)"><rect x="515" y="282" width="110" height="78" fill="#E6AF2D"/>
<polygon fill="#E6DC32" points="513.5,280.5 523.9,280.5 524.7,286.5 519.5,285 513.5,285.7"/>
<polygon fill="#E6DC32" points="520.9,295.4 525.4,290.2 531.4,292.4 537.3,296.9 543.2,301.3 549.2,302.8 554.4,301.3 556.6,305.8 559.6,309.5 564.1,308.8 564.8,302.8 566.3,298.4 570,301.3 572.2,307.3 574.5,313.2 580.4,315.4 586.4,314 586.4,307.3 585.6,296.9 589.3,293.1 593,296.1 593.8,302.8 596,309.5 598.2,314 601.2,316.2 598.2,319.2 593.8,321.4 589.3,324.4 595.3,329.6 601.2,331.1 604.9,335.5 608.7,342.2 613.9,344.4 619.1,341.5 619.1,361.5 584.9,361.5 586.4,354.8 590.8,348.2 590.1,341.5 586.4,337 581.9,337.7 578.2,341.5 577.4,347.4 574.5,351.1 570,348.9 565.5,344.4 562.6,338.5 559.6,332.5 555.1,326.6 550.7,322.1 544.7,322.1 538.8,321.4 537.3,315.4 535.8,311.7 531.4,309.5 525.4,311 520.9,308.8 520.2,301.3"/>
<polygon fill="#E6DC32" points="606.4,283.5 610.1,286.5 613.9,292.4 617.6,296.9 619.1,320.7 613.1,317.7 608.7,311.7 607.9,301.3 607.2,290.9"/>
<polygon fill="#E6DC32" points="537.3,328.8 541,327.3 542.5,330.3 539.5,333.3 537,331.8"/>
<polygon fill="#F5EB5A" points="569.3,332.5 572.2,327.3 577.4,322.9 581.2,322.1 582.6,326.6 584.9,329.6 580.4,332.5 575.9,336.3 573.7,342.9 569.3,342.2"/>
<polygon fill="#F5EB5A" points="559.6,316.9 564.1,315.4 564.1,319.2 559.6,320.7"/>
<polygon fill="#F5EB5A" points="594.5,337.7 599,337 599.7,341.5 597.5,345.2"/>
<polygon fill="#F5EB5A" points="595.3,361.5 596.8,356.3 602.7,353.4 605.7,361.5"/>
<polygon fill="#F08228" points="535.1,280.5 535.8,287.9 540.3,293.1 546.2,295.4 552.2,294.6 553.7,289.4 552.9,283.5 553.7,280.5"/>
<polygon fill="#F08228" points="513.5,322.1 520.9,321.4 526.9,322.9 531.4,325.1 529.1,331.1 529.9,336.3 535.8,339.2 542.5,340.7 547.7,342.9 550.7,340.7 555.9,340 559.6,344.4 564.1,348.2 570,351.9 577.4,356.3 581.9,361.5 513.5,361.5"/>
<polygon fill="#E6AF2D" points="546.2,348.2 549.9,347.4 551.4,351.9 550.7,355.6 547,354.8"/>
<polygon fill="#F08228" points="581.2,341.5 584.9,340.7 584.9,348.9 581.9,349.6"/>
<polygon fill="#FF5A00" points="513.5,343.7 519.5,343.7 521.7,347.4 520.9,353.4 513.5,354.8"/>
<polygon fill="#FF5A00" points="558.1,361.5 558.1,353.4 564.1,351.9 571.5,354.8 578.9,358.6 583.4,361.5"/>
<polygon fill="#FF0000" points="513.5,356.3 519.5,356.3 523.2,361.5 513.5,361.5"/>
<polygon fill="#FF0000" points="561.8,361.5 562.6,357.8 567,356.3 573,358.6 575.9,361.5"/>
</g>
<g clip-path="url(#c20)"><rect x="115" y="360" width="100" height="78" fill="#F08228"/>
<polygon fill="#E6AF2D" points="113.6,358.6 147.4,358.6 148.8,364.1 153.5,370.1 153.5,377.6 149.5,383 145.4,386.4 142,383.6 142.7,376.2 141.4,369.5 136.6,366.8 129.9,366.1 121.8,368.1 113.6,368.1"/>
<polygon fill="#E6DC32" points="121.8,358.6 132.6,358.6 132.6,360.7 121.8,360.7"/>
<polygon fill="#E6AF2D" points="178.5,358.6 177.8,365.4 175.1,369.5 175.8,374.9 181.2,378.9 185.3,383 186.6,391.1 190.7,396.5 193.4,403.2 197.4,407.3 204.2,410 209.6,415.4 212.3,420.8 216.4,422.2 216.4,358.6"/>
<polygon fill="#E6DC32" points="183.9,358.6 184.6,365.4 190.7,368.1 192.7,374.9 192,380.3 190,385.7 192.7,392.4 196.1,399.2 199.5,405.9 205.5,407.3 210.9,411.4 216.4,415.4 216.4,358.6"/>
<polygon fill="#F5EB5A" points="193.4,358.6 194.7,365.4 198.1,372.2 202.2,378.9 206.9,384.3 208.9,389.7 208.2,395.1 204.2,400.5 202.8,404.6 209.6,405.9 216.4,410 216.4,358.6"/>
<polygon fill="#E1F5A5" points="210.9,371.5 215.7,371.5 215.7,373.5 210.9,373.2"/>
<polygon fill="#E1F5A5" points="210.9,406.6 215.7,406.6 215.7,408.6"/>
<polygon fill="#FF5A00" points="113.6,375.5 121.1,375.5 125.1,378.9 129.2,384.3 132.6,389.7 137.3,393.1 143.4,395.8 152.8,395.8 160.9,395.1 166.4,391.8 170.4,387 173.1,384.3 178.5,384.3 179.9,391.1 182.6,397.8 186.6,403.2 187.3,408.6 183.9,414.1 178.5,419.5 182.6,424.9 188,423.5 193.4,421.5 197.4,419.5 198.1,424.9 198.8,431.6 204.2,434.3 212.3,435.7 216.4,436.4 216.4,439.7 113.6,439.7"/>
<polygon fill="#FF5A00" points="161.6,374.9 165,374.9 165,378.9 161.6,378.9"/>
<polygon fill="#FF0000" points="113.6,382.3 121.1,383 123.8,388.4 128.5,393.8 133.9,397.8 139.3,399.9 144.7,401.9 151.5,405.9 158.2,408.6 163.6,407.3 169.1,408 170.4,414.1 170.4,420.8 171.8,426.2 177.2,428.9 182.6,432.3 190.7,433.6 198.8,435.7 202.8,439.7 113.6,439.7"/>
<polygon fill="#CD0000" points="113.6,390.4 121.1,391.1 123.8,396.5 128.5,397.8 133.9,399.2 139.3,403.2 144.7,408 148.8,414.1 152.8,419.5 158.2,423.5 163.6,428.9 169.1,434.3 173.1,439.7 113.6,439.7"/>
</g>
<g clip-path="url(#c21)"><rect x="215" y="360" width="100" height="78" fill="#E6DC32"/>
<polygon fill="#F5EB5A" points="213.6,358.6 240.7,358.6 243.4,364.1 245.4,369.5 244.1,376.2 239.3,380.3 233.9,383 232.6,387 235.9,392.4 238.6,397.8 241.4,403.2 246.1,401.9 251.5,400.5 254.2,393.8 255.5,389.1 260.9,387 267,389.1 269.7,393.8 270.4,399.2 273.1,403.2 278.5,405.9 283.9,408.6 285.3,414.1 282.6,419.5 278.5,422.2 273.1,418.1 269.1,416.8 265.7,420.8 262.3,424.9 258.2,428.9 251.5,428.2 246.1,424.9 240.7,421.5 233.9,419.5 227.2,416.8 220.4,414.1 213.6,412"/>
<polygon fill="#E6DC32" points="217.7,399.2 221.1,395.8 228.5,395.1 234.6,397.2 236.6,400.5 234.6,405.3 229.9,408.6 223.1,407.3 219.1,403.9"/>
<polygon fill="#E6AF2D" points="222.4,401.2 225.8,399.2 230.5,399.5 232.6,401.9 230.5,405.3 225.8,405.3"/>
<polygon fill="#E6DC32" points="214.3,370.1 217.7,370.1 217.7,373.5 214.3,373.5"/>
<polygon fill="#F5EB5A" points="276.5,439.7 277.8,433 279.9,428.9 282.6,435.7 283.2,439.7"/>
<polygon fill="#E1F5A5" points="217.7,358.6 220.4,364.1 225.8,367.4 227.2,371.5 235.3,374.2 240,372.8 240,369.5 235.3,368.1 231.2,365.4 228.5,361.4 227.8,358.6"/>
<polygon fill="#E1F5A5" points="216.4,385 221.8,383 227.2,385.7 230.5,389.1 227.8,391.8 221.8,391.1 216.4,389.1"/>
<polygon fill="#E1F5A5" points="258.2,395.1 261.6,392.4 266.4,393.1 267,397.8 265,401.9 260.9,403.2 258.2,400.5"/>
<polygon fill="#E1F5A5" points="233.2,414.7 236.6,411.4 241.4,406.6 247.4,405.9 252.8,408.6 256.9,412.7 259.6,416.8 260.9,420.8 256.9,424.9 251.5,426.2 247.4,422.2 242,419.5 235.3,418.8"/>
<polygon fill="#A0E632" points="242,410.7 245.4,408 250.1,409.3 254.9,412.7 255.5,416.8 254.9,419.7 250.8,419.5 246.8,416.1 242.7,413.4"/>
<polygon fill="#E6AF2D" points="255.5,358.6 261.6,358.6 266.4,365.4 273.1,371.5 279.9,374.9 286.6,380.3 290.7,384.3 285.3,387.7 283.9,392.4 286.6,396.5 283.9,399.2 277.2,399.9 273.1,396.5 271.8,391.1 267.7,387 260.9,385.7 255.5,387 252.8,392.4 251.5,398.5 247.4,397.8 244.1,393.8 244.1,387 246.8,381.6 250.1,376.2 251.5,369.5 253.5,364.1"/>
<polygon fill="#E6AF2D" points="288.6,387.7 296.1,385.7 299.5,392.4 300.8,400.5 300.1,407.3 302.2,414.1 307.6,418.8 313,424.9 315,431.6 313.6,439.7 285.3,439.7 285.9,433 285.3,424.9 287.3,416.8 289.3,408.6 289.3,400.5 289.1,392.4"/>
<polygon fill="#E6AF2D" points="213.6,416.1 220.4,418.1 227.2,420.8 233.9,424.9 240.7,428.9 246.1,431.6 251.5,433.6 254.2,439.7 213.6,439.7"/>
<polygon fill="#E6AF2D" points="265.7,439.7 267,427.6 269.1,424.2 271.1,428.9 270.4,439.7"/>
<polygon fill="#F08228" points="258.2,373.5 262.3,370.8 266.4,368.1 271.8,372.8 278.5,376.2 285.3,380.3 281.2,380.3 275.8,378.9 269.1,379.6 262.3,380.3 256.9,378.2"/>
<polygon fill="#F08228" points="262.3,358.6 267,364.1 273.1,370.1 279.9,374.2 286.6,379.6 292.7,385 297.4,390.4 301.5,395.1 309.6,400.5 316.4,403.2 316.4,358.6"/>
<polygon fill="#F08228" points="292.7,385 297.4,390.4 301.5,395.1 309.6,400.5 316.4,403.2 316.4,439.7 309.6,439.7 312.3,433 311.6,426.2 306.9,419.5 301.5,415.4 297.4,410 296.8,403.2 297.4,396.5 294.7,390.4"/>
<polygon fill="#F08228" points="213.6,422.8 220.4,423.5 225.8,427.6 231.2,431.6 235.3,435.7 238,439.7 213.6,439.7"/>
<polygon fill="#F08228" points="289.3,430.3 294.7,428.2 295.4,433.6 292.7,435.7"/>
<polygon fill="#FF5A00" points="265.7,358.6 270.4,364.1 274.5,368.8 277.2,372.8 281.2,373.5 286.6,377.6 292,381.6 296.1,385 299.5,389.1 301.5,393.8 305.5,397.8 309.6,400.5 316.4,401.2 316.4,358.6"/>
<polygon fill="#FF5A00" points="309.6,400.5 316.4,400.5 316.4,414.1 312.3,411.4 310.9,405.9"/>
<polygon fill="#FF0000" points="268.4,358.6 273.1,365.4 278.5,369.5 285.3,372.8 292,376.2 297.4,381.6 301.5,387 304.2,392.4 309.6,397.2 316.4,398.5 316.4,358.6"/>
<polygon fill="#CD0000" points="271.8,358.6 275.8,364.1 281.2,368.8 288,372.2 294.7,373.5 300.1,378.9 304.2,385 308.2,390.4 312.3,395.1 316.4,395.8 316.4,358.6"/>
</g>
<g clip-path="url(#c22)"><rect x="315" y="360" width="200" height="172" fill="#960000"/>
<polygon fill="#CD0000" points="312.3,357.3 317.7,357.3 323.1,366.8 333.9,374.9 344.7,380.3 358.2,381.6 367.7,388.4 379.9,395.1 388,403.2 398.8,408.6 404.2,415.4 397.4,422.2 396.1,435.7 404.2,446.5 415,455.9 428.5,462.7 442,465.4 452.8,472.2 463.6,481.6 474.5,489.7 488,495.1 498.8,500.5 504.2,511.4 509.6,519.5 516.4,526.2 516.4,533 504.2,533 488,525.4 471.8,523.8 458.2,521.1 450.1,516.8 455.5,512.7 444.7,510 436.6,512.7 428.5,520.8 423.1,533 312.3,533"/>
<polygon fill="#FF0000" points="312.3,400.5 325.8,401.9 342,403.2 358.2,403.2 374.5,403.2 385.3,405.9 390.7,414.1 385.3,424.9 377.2,433 379.9,443.8 390.7,449.2 404.2,455.9 417.7,464.1 431.2,468.1 444.7,473.5 455.5,480.3 466.4,488.4 474.5,496.5 473.1,503.2 466.4,507 455.5,505.9 442,505.9 431.2,509.7 423.1,515.1 416.4,522.2 412.3,533 312.3,533"/>
<polygon fill="#FF5A00" points="312.3,403.2 323.1,408.6 333.9,414.1 344.7,415.4 352.8,411.4 369.1,410 382.6,411.4 383.9,418.1 375.8,423.5 367.7,430.3 352.8,433 343.4,437 340.7,443.8 350.1,450.5 363.6,453.2 369.1,460 365,470.8 369.1,481.6 375.8,492.4 379.9,500.5 389.3,503.2 393.4,511.4 393.4,519.5 390.7,533 312.3,533"/>
<polygon fill="#FF5A00" points="382.6,469.5 392,462.7 398.8,466.8 404.2,476.2 410.9,485.7 409.6,493.8 402.8,496.5 396.1,487 388,478.9"/>
<polygon fill="#FF5A00" points="416.4,485.7 421.8,480.3 431.2,484.3 438,491.1 444.7,487 452.8,489.7 459.6,496.5 455.5,501.9 444.7,500.5 436.6,497.8 428.5,501.9 421.8,497.8"/>
<polygon fill="#F08228" points="312.3,414.1 321.8,418.1 328.5,430.3 333.9,443.8 339.3,454.6 344.7,466.8 354.2,473.5 360.9,481.6 369.1,489.7 372.3,497.8 375.8,507 378.5,515.1 369.1,516.5 355.5,517.8 344.7,520.5 340.7,533 312.3,533"/>
<polygon fill="#F08228" points="355.5,420.8 363.6,416.8 375.8,416.8 373.1,423.5 365,426.2 358.2,424.9"/>
<polygon fill="#F08228" points="381.2,500.5 385.3,497.8 387.4,503.2 385.3,507.3 381.2,505.9"/>
<polygon fill="#FF5A00" points="312.3,503.2 323.1,499.2 333.9,497.8 342,500.5 342,511.4 340.7,522.2 328.5,533 312.3,533"/>
<polygon fill="#FF0000" points="312.3,507.3 320.4,505.9 325.8,514.1 327.2,533 312.3,533"/>
<polygon fill="#CD0000" points="312.3,510 317.2,510 319.1,522.2 317.7,533 312.3,533"/>
<polygon fill="#E6AF2D" points="315,443.8 319.1,439.7 324.5,443.8 325.3,451.9 321.8,457.3 315,455.9"/>
<polygon fill="#E6AF2D" points="315,487 324.5,485.7 328.5,489.7 324.5,492.4 315,491.9"/>
<polygon fill="#E6DC32" points="363.6,501.9 366.4,501.9 366.4,514.1 363.6,514.1"/>
<polygon fill="#E6AF2D" points="348.8,505.9 351.5,505.9 351.5,509.2 348.8,509.2"/>
</g>
<g clip-path="url(#c23)"><rect x="515" y="360" width="110" height="78" fill="#960000"/>
<polygon fill="#CD0000" points="513.5,358.5 513.5,362.2 520.9,367.4 528.4,372.6 537.3,374.9 544.7,377.8 552.2,380.8 558.1,387.5 564.1,392 570,395.7 569.3,389.7 571.5,383.8 577.4,380.8 580.4,385.3 578.9,388.2 584.9,392 581.9,395.7 581.2,401.6 580.4,409.1 586.4,411.3 593.8,414.3 598.2,419.5 599,425.4 597.5,431.4 596,435.8 595.3,439.5 619.1,439.5 619.1,358.5"/>
<polygon fill="#FF0000" points="513.5,358.5 519.5,363 526.9,367.4 534.3,371.1 541.8,373.4 549.2,377.8 555.1,382.3 561.1,387.5 567,392 570.7,389 571.5,383.8 577.4,380.1 583.4,382.3 589.3,386.8 595.3,392.7 599.7,398.7 602.7,406.1 605.7,413.5 607.2,420.9 607.2,429.9 607.9,439.5 619.1,439.5 619.1,358.5"/>
<polygon fill="#FF0000" points="570.7,394.9 575.9,393.4 581.2,394.9 581.9,398.7 578.9,402.4 574.5,400.1"/>
<polygon fill="#FF5A00" points="522.4,358.5 528.4,364.5 535.8,365.9 543.2,364.5 547,367.4 549.9,373.4 555.1,375.6 561.1,374.9 564.1,370.4 563.3,364.5 562.6,358.5 567,358.5 571.5,364.5 575.9,369.7 581.9,374.9 587.8,380.1 593.8,383.8 599.7,388.2 605.7,394.2 608.7,400.1 611.6,406.1 617.6,409.1 619.1,410.5 619.1,358.5"/>
<polygon fill="#F08228" points="526.1,358.5 531.4,362.2 538.8,361.5 544.7,361.5 549.2,365.2 551.4,371.1 556.6,373.4 561.1,371.9 562.6,367.4 559.6,358.5"/>
<polygon fill="#F08228" points="570,358.5 575.9,364.5 581.9,369.7 587.8,374.9 593.8,379.3 600.5,383.8 606.4,388.2 611.6,392.7 617.6,397.2 619.1,397.9 619.1,358.5"/>
<polygon fill="#E6AF2D" points="577.4,358.5 583.4,364.5 589.3,370.4 595.3,374.9 601.2,378.6 607.2,380.8 613.1,383.8 619.1,386 619.1,358.5"/>
<polygon fill="#E6DC32" points="582.6,358.5 587.8,364.5 593.8,370.4 599.7,374.1 605.7,376.4 611.6,377.1 617.6,374.9 619.1,374.1 619.1,358.5"/>
<polygon fill="#F5EB5A" points="587.8,358.5 592.3,363 596.8,367.4 602.7,370.4 608.7,371.9 614.6,369.7 619.1,367.4 619.1,358.5"/>
<polygon fill="#E6DC32" points="604.2,358.5 607.2,362.2 611.6,363.7 616.1,361.5 617.6,358.5"/>
<polygon fill="#8B008B" points="543.2,389.7 547,389 552.2,387.5 555.1,391.2 559.6,394.9 564.1,398.7 566.3,403.1 570,407.6 575.9,410.5 581.9,413.5 587.8,416.5 592.3,419.5 593.8,425.4 592.3,431.4 588.6,435.8 586.4,440.3 542.5,440.3 540.3,429.9 541,419.5 539.5,410.5 539.5,403.1 544,400.1 545.5,394.2"/>
</g>
<g clip-path="url(#c24)"><rect x="115" y="438" width="100" height="94" fill="#CD0000"/>
<polygon fill="#FF0000" points="179.9,436.4 184.7,440.4 189.6,444.5 195.3,448.5 199.3,452.9 205.8,452.3 212.3,450.6 220.4,452.3 228.5,453.9 236.6,454.2 236.6,436.4"/>
<polygon fill="#FF5A00" points="196.9,436.4 199.3,439.6 203.4,443.7 208.2,446.1 213.9,448.1 220.4,450.2 228.5,451.8 236.6,451.8 236.6,436.4"/>
<polygon fill="#F08228" points="212.3,436.4 217.2,440.4 223.6,442.9 230.1,443.7 236.6,446.1 236.6,436.4"/>
<polygon fill="#960000" points="207.4,465.6 210.7,460.7 215.5,460.7 220.4,463.1 222,465.6"/>
</g>
<g clip-path="url(#c25)"><rect x="215" y="438" width="100" height="94" fill="#F08228"/>
<polygon fill="#E6AF2D" points="239.3,436.4 244.2,441.2 252.3,444.5 260.4,446.9 268.5,448.5 279.9,449.4 288,451 296.1,451 304.2,451.8 312.3,453.4 318.8,455.8 323.6,452.6 325.3,446.1 322,441.2 315.5,439.6 309,436.4"/>
<polygon fill="#E6AF2D" points="315.5,489.1 320.4,485.8 326.9,486.6 327.7,490.7 322,492.3 317.2,491.5"/>
<polygon fill="#E6DC32" points="253.9,436.4 258.8,440.4 266.9,441.2 273.4,444.5 281.5,446.1 289.6,446.1 296.1,444.5 291.2,440.4 286.3,436.4"/>
<polygon fill="#F5EB5A" points="271.8,436.4 275,440.4 279.9,441.2 282.3,438.8 280.7,436.4"/>
<polygon fill="#FF5A00" points="213.4,441.2 221.5,444.5 229.6,446.9 237.7,446.1 245.8,445.3 252.3,447.7 257.2,451.8 265.3,453.4 275,453.4 283.1,454.2 289.6,458.3 294.5,464.8 300.9,460.7 307.4,459.1 315.5,461.5 320.4,466.4 322,472.1 315.5,475.3 307.4,476.1 301.8,478.5 300.9,483.4 305.8,488.3 310.7,493.1 317.2,496.4 325.3,497.2 336.6,498 336.6,533.7 213.4,533.7"/>
<polygon fill="#FF0000" points="213.4,447.7 223.1,451 232.8,453.4 240.9,453.4 247.4,455.8 253.9,459.9 262,459.1 268.5,460.7 275,463.9 279.9,468 284.7,472.9 289.6,478.5 294.5,485 299.3,489.9 304.2,494.8 310.7,498 318.8,500.4 326.9,503.7 330.9,509.3 328.5,517.5 326.9,525.6 331.8,528.8 333.4,533.7 213.4,533.7"/>
<polygon fill="#CD0000" points="213.4,452.6 224.7,455.8 234.5,456.6 242.6,458.3 247.4,463.9 255.5,468.8 258,476.9 262,481.8 270.1,484.2 279.9,485 284.7,489.9 289.6,494.8 296.1,497.2 303.4,497.2 310.7,501.2 317.2,506.1 322,511 320.4,519.1 318.8,528.8 318.8,533.7 213.4,533.7"/>
<polygon fill="#960000" points="213.4,459.9 221.5,462.3 231.2,464.8 242.6,464.8 250.7,466.4 255.5,470.4 257.2,478.5 260.4,486.6 266.9,489.1 273.4,490.7 279.9,493.9 282.3,499.6 284.7,502.9 292.8,501.2 300.9,500.4 307.4,504.5 312.3,511 314.7,519.1 312.3,528.8 311.5,533.7 213.4,533.7"/>
</g>
<g clip-path="url(#c26)"><rect x="515" y="438" width="110" height="94" fill="#960000"/>
<polygon fill="#8B008B" points="542.3,436.4 541.5,444.5 543.9,449.4 543.1,454.2 537.4,458.3 535,463.9 534.2,467.2 529.3,466.4 519.6,466.4 518.8,472.9 520.4,478.5 518.8,485 522.8,489.9 526.1,496.4 532.6,500.4 540.7,504.5 547.2,507.7 550.4,511.8 555.3,509.3 558.5,514.2 560.9,520.7 556.9,523.9 553.6,526.4 555.3,530.4 570.7,530.4 571.5,522.3 573.1,515.8 576.3,511 578.8,506.1 577.2,501.2 579.6,494.8 581.2,486.6 583.6,481.8 586.1,478.5 584.5,470.4 586.1,462.3 588.5,454.2 585.3,447.7 586.1,436.4"/>
<polygon fill="#CD0000" points="595.8,436.4 598.2,447.7 599,457.5 596.6,465.6 595.8,475.3 595,485 590.9,491.5 587.7,498 586.9,504.5 587.7,512.6 586.9,520.7 586.1,530.4 626.6,530.4 626.6,436.4"/>
<polygon fill="#FF0000" points="606.3,436.4 608.8,447.7 607.2,459.1 610.4,467.2 618.5,469.6 626.6,469.6 626.6,436.4"/>
<polygon fill="#FF0000" points="626.6,488.3 616.9,489.9 610.4,493.1 605.5,497.2 600.7,501.2 595.8,506.1 592.6,511 590.9,519.1 590.1,530.4 626.6,530.4"/>
<polygon fill="#FF5A00" points="613.6,436.4 615.3,444.5 617.7,452.6 626.6,454.2 626.6,436.4"/>
<polygon fill="#FF5A00" points="626.6,493.1 616.9,494.8 610.4,498 606.3,502.9 603.9,509.3 598.2,515 595,520.7 592.6,530.4 626.6,530.4"/>
<polygon fill="#F08228" points="616.9,436.4 617.7,444.5 626.6,444.5 626.6,436.4"/>
<polygon fill="#F08228" points="626.6,498.8 616.9,499.6 612,502.9 609.6,509.3 608.8,515.8 606.3,520.7 601.5,523.9 599,530.4 626.6,530.4"/>
<polygon fill="#E6AF2D" points="605.5,530.4 608,526.4 613.6,525.6 616.9,528 617.7,530.4"/>
<polygon fill="#CD0000" points="503.4,511.8 508.2,514.2 514.7,519.1 521.2,525.6 524.5,530.4 503.4,530.4"/>
</g>
<g clip-path="url(#c27)"><rect x="315" y="438" width="100" height="94" fill="#FF0000"/>
<polygon fill="#CD0000" points="371.5,436.4 378,442.8 386.1,446.9 395.8,451.7 405.5,456.6 416,461.4 416,436.4"/>
<polygon fill="#960000" points="397.4,436.4 403,442 408.7,447.7 416,454.2 416,436.4"/>
<polygon fill="#FF5A00" points="313.4,436.4 342.5,436.4 340.8,443.7 347.3,450.1 355.4,451.7 363.5,452.5 368.3,458.2 368.3,463.8 364.3,469.5 365.1,474.3 371.5,478.4 377.2,484.8 384.5,491.3 390.9,497.8 394.2,505.9 392.5,513.9 390.1,523.6 389.3,530.9 313.4,530.9"/>
<polygon fill="#FF5A00" points="382.9,471.9 387.7,466.3 392.5,463 397.4,466.3 402.2,472.7 408.7,480 411.9,485.7 408.7,492.1 403.9,496.2 399,489.7 392.5,482.4 386.9,476.8"/>
<polygon fill="#F08228" points="313.4,436.4 331.2,436.4 334.4,444.5 336.8,452.5 337.6,460.6 342.5,464.7 347.3,468.7 349.7,475.2 353.8,481.6 358.6,485.7 366.7,486.5 370.7,491.3 371.5,497.8 370.7,502.6 374,509.1 379.6,513.9 384.5,517.2 383.7,522 378,524.4 371.5,525.2 368.3,530.9 313.4,530.9"/>
<polygon fill="#F08228" points="381.2,501 385.3,498.1 386.9,502.6 385.3,506.7 382,504.2"/>
<polygon fill="#FF5A00" points="313.4,497.8 323.1,498.1 331.2,497 339.2,498.1 342.1,504.2 340.8,510.7 339.2,518.8 338.4,530.9 313.4,530.9"/>
<polygon fill="#FF0000" points="313.4,501.8 321.5,502.6 327.9,505 330.8,510.7 328.7,518.8 326.6,525.2 326.3,530.9 313.4,530.9"/>
<polygon fill="#CD0000" points="313.4,504.2 318.6,505.5 321.5,510.7 321.1,518.8 318.6,526 313.4,528.8"/>
<polygon fill="#FF5A00" points="347.3,530.9 348.9,526 358.6,524.4 359.4,530.9"/>
<polygon fill="#E6AF2D" points="313.4,441.2 317.4,439.6 322.3,440.4 324.7,446.1 323.9,452.5 320.7,456.6 313.4,455.8"/>
<polygon fill="#E6AF2D" points="315,488.9 321.5,486.1 326.3,486.8 327.9,489.7 324.7,492.1 318.2,491.3"/>
<polygon fill="#E6AF2D" points="336,471.6 337.3,471.6 337.3,472.9 336,472.9"/>
<polygon fill="#E6DC32" points="364.3,501.8 366.4,501.8 366.4,513.9 364.3,513.9"/>
<polygon fill="#FF5A00" points="349.7,506.7 351.3,506.7 351.3,508.3 349.7,508.3"/>
</g>
<g clip-path="url(#c28)"><rect x="545" y="345" width="75" height="60" fill="#F08228"/>
<polygon fill="#E6AF2D" points="561.2,343.9 562.3,348.2 566.6,350.4 570.9,352 576.4,355.3 580.7,358 585,362.3 588.2,367.7 591.5,372 596.9,375.8 603.4,379.1 609.9,380.7 615.3,381.2 620.7,381.2 620.7,343.9"/>
<polygon fill="#E6AF2D" points="546.6,346.6 548.8,345.5 550.9,347.2 550.9,354.7 547.2,355.3"/>
<polygon fill="#E6DC32" points="565.5,343.9 568.2,348.8 573.1,350.9 577.4,349.3 580.7,343.9"/>
<polygon fill="#E6DC32" points="590.4,343.9 589.3,350.4 588.2,355.8 589.3,361.2 590.4,366.6 593.6,370.9 598,374.2 603.4,376.9 609.9,377.4 615.3,376.9 620.7,376.4 620.7,343.9"/>
<polygon fill="#F08228" points="582.3,343.9 584.5,343.9 584.5,349.9 582.3,349.9"/>
<polygon fill="#F5EB5A" points="594.2,363.9 595.8,360.1 598,356.4 601.2,353.6 603.4,354.2 603.4,359.1 604.7,363.4 608.2,366.1 613.1,364.5 620.7,361.2 620.7,369.3 615.3,370.9 608.8,372.6 603.4,371.5 599.1,369.3 595.8,366.6"/>
<polygon fill="#FF5A00" points="543.9,363.4 547.2,366.6 549.3,370.9 553.6,373.6 558,373.1 558.5,366.6 558,359.1 558.5,353.6 562.3,353.1 568.2,355.3 573.1,356.9 577.4,360.1 581.8,364.5 585,368.8 588.2,373.1 593.6,377.4 599.1,381.8 605.5,387.2 610.9,392.6 615.3,396.9 620.7,399.6 620.7,406.6 543.9,406.6"/>
<polygon fill="#FF0000" points="543.9,372 547.2,373.1 550.4,376.4 554.7,376.9 559.1,376.4 561.2,372 562.3,366.6 562.3,359.1 565.5,358 569.9,361.2 574.2,366.6 577.4,372 580.7,376.4 582.3,379.6 588.2,381.8 593.6,386.1 599.1,390.4 604.5,395.8 608.8,401.2 610.4,406.6 543.9,406.6"/>
<polygon fill="#CD0000" points="543.9,379.6 550.4,380.7 554.7,386.1 559.1,390.4 563.4,393.6 566.6,396.9 568.2,395.8 570.4,393.6 569.9,388.2 570.4,383.9 574.2,381.8 578.5,380.7 582.3,379.6 588.2,382.3 593.6,386.6 599.1,391.5 603.9,396.9 607.7,402.3 608.8,406.6 543.9,406.6"/>
<polygon fill="#960000" points="543.9,381.2 549.3,381.8 552.6,385.5 555.8,389.3 560.1,392.6 564.5,395.8 566.6,399.1 567.2,406.6 543.9,406.6"/>
<polygon fill="#960000" points="578.5,386.1 581.8,385 585.5,387.7 585.5,390.9 581.8,391.5 579.1,389.3"/>
<polygon fill="#8B008B" points="543.9,390.4 547.2,388.2 551.5,388.2 554.7,390.4 559.1,393.6 562.3,396.9 565,401.2 565.5,406.6 543.9,406.6"/>
<polygon fill="#FF0000" points="570.9,395.3 575.3,393.6 579.6,394.2 580.7,396.9 579.6,400.1 575.3,401.2 572,398.5"/>
</g>
<g stroke="#74747c" stroke-width="1" stroke-dasharray="2 4" fill="none">
<line x1="136.5" y1="52" x2="136.5" y2="529" stroke-dashoffset="1"/>
<line x1="196.5" y1="52" x2="196.5" y2="529" stroke-dashoffset="1"/>
<line x1="256.5" y1="52" x2="256.5" y2="529" stroke-dashoffset="1"/>
<line x1="317.5" y1="52" x2="317.5" y2="529" stroke-dashoffset="1"/>
<line x1="377.5" y1="52" x2="377.5" y2="529" stroke-dashoffset="1"/>
<line x1="437.5" y1="52" x2="437.5" y2="529" stroke-dashoffset="1"/>
<line x1="498.5" y1="52" x2="498.5" y2="529" stroke-dashoffset="1"/>
<line x1="558.5" y1="52" x2="558.5" y2="529" stroke-dashoffset="1"/>
<line x1="121" y1="475.5" x2="618" y2="475.5" stroke-dashoffset="3"/>
<line x1="121" y1="401.5" x2="618" y2="401.5" stroke-dashoffset="3"/>
<line x1="121" y1="327.5" x2="618" y2="327.5" stroke-dashoffset="3"/>
<line x1="121" y1="254.5" x2="618" y2="254.5" stroke-dashoffset="3"/>
<line x1="121" y1="180.5" x2="618" y2="180.5" stroke-dashoffset="3"/>
<line x1="121" y1="106.5" x2="618" y2="106.5" stroke-dashoffset="3"/>
</g>
<g fill="none" stroke="#6A6A72" stroke-linejoin="round" stroke-linecap="round" shape-rendering="geometricPrecision">
<polyline stroke-width="2" points="156.9,52.1 162.3,54.8 169.1,57.7 175.8,57.2 181.2,59.1 188,60.4 196.1,61.2 202.8,63.1 209.6,64.9 215.7,65.3"/>
<polyline stroke-width="2" points="200.8,126 203.5,123 209.6,122.3 215,123.9"/>
<polyline stroke-width="2" points="214.3,64.9 223.1,64.9 229.9,65.3 233.9,66.2 240,66.9 247.4,67.6 254.2,68.3 259.6,69.6 265,73 271.8,73.9 277.2,74.8 282.6,75.7 288.6,76.1 294.7,73.7 301.5,70.3 304.9,67.6 308.2,61.5 311.6,59.9 315.7,59.5"/>
<polyline stroke-width="2" points="240,67.6 238.6,71.6 232.6,74.4 225.8,78.4 219.7,83.1 219.7,87.9 224.5,88.5 229.9,90.6 235.9,93.3 233.9,96.6 228.5,100 225.8,105.4 229.9,107.5 233.9,107.5 232.6,114.2 230.5,119.6 233.9,121.6 240.7,123 245.4,126"/>
<polyline stroke-width="2" points="230.5,119.6 227.8,123 227.8,126"/>
<polyline stroke-width="2" points="215,124.8 220.4,126"/>
<polyline stroke-width="2" points="314.3,59.5 319.1,58.1 329.9,57.7 342,57.2 352.8,54.8 362.3,52.7 374.5,51.8"/>
<polyline stroke-width="2" points="397.4,51.8 401.5,57.5 406.9,65.6 410.9,69.6 415.7,69.6"/>
<polyline stroke-width="2" points="415.7,68.3 408.2,68.3 404.2,66.2 396.1,66.2 392,68.3 393.4,72.3 392.7,75 385.3,75.7 381.9,77.7 381.2,81.8 377.2,83.8 371.8,85.8 366.4,88.3 356.9,88.5 354.2,91.2 352.8,95.3 354.9,99.4 359.6,101.4 360.3,107.5 359.9,115.6 357.6,118.5 354.2,116.9 348.8,117.6 342,119.6 337.3,123 333.9,126"/>
<polyline stroke-width="2" points="414.3,70.7 421.8,75 428.5,79.1 430.5,83.8 435.3,88.5 442,90.6 447.4,92.6 452.8,100 453.5,104.8 459.6,110.8 469.1,110.2 474.5,111.5 478.5,118.3 486.6,121 496.1,122.1 509.6,121.6 515.7,123.7"/>
<polyline stroke-width="2" points="514.3,124.6 520.9,125.3 526.9,121.6 534.3,117.1 540.3,113.4 546.2,113.4 553.7,110.4 559.6,106.7 565.5,105.2 570,106.7 575.9,106 581.9,102.3 586.4,99.3 590.8,94.1"/>
<polyline stroke-width="2" points="546.2,113.7 550.7,117.9 555.1,121.6 555.9,126.8"/>
<polyline stroke-width="2" points="601.2,93.3 605.7,94.8 613.1,94.4 618.3,93.3"/>
<polyline stroke-width="2" points="200.1,125.3 202.2,131.4 196.1,133 189.3,134.8 182.6,138.2 175.8,141.1 169.1,143.6 162.3,146.3 158.2,148.3 154.2,154.4"/>
<polyline stroke-width="2" points="171.1,139.5 165.7,137.9 161.6,138.8 155.5,142.2 150.1,147.6 146.8,153 145,158.4 147.4,164.5 151.5,169.9 154.9,176 160.3,178.7 167,180.7 168.4,183.4 166.4,188.2 163.6,192.9 160.3,190.2 160.9,187.5 158.9,189.5 158.2,193.6 153.5,192.2 151.5,194.2 150.8,199 150.4,204.4"/>
<polyline stroke-width="3" points="160.3,187.5 161.6,189.5"/>
<polyline stroke-width="2" points="219.1,125.3 223.1,127.4 227.2,125.3"/>
<polyline stroke-width="2" points="235.3,125.3 240.7,131.4 244.1,134.4 239.3,136.1 241.4,139.2 233.9,141.1 226.5,143.3 228.5,149 230.9,157.1 232.3,166.5 236.6,173.3 241.4,179.4 245.4,185.5 247.4,190.9 251.2,196.3 255.5,192.9 256.2,188.2 260.9,183.4 265.7,180.7 267,175.3 270.4,170.6 271.8,165.2 272.4,159.8 275.1,154.4 279.9,154.1 288,158.4 293.4,161.8 298.8,166.5 304.2,170.6 308.2,172.6 310.9,180.1 311.6,186.8 310.3,194.9 309.6,204"/>
<polyline stroke-width="2" points="244.1,125.3 247.4,128.7 251.2,132.5 249.5,136.1 244.1,134.8"/>
<polyline stroke-width="2" points="229.9,143.3 235.3,146.9 248.8,146.5 259.6,144.9 271.8,144.2 281.2,143.3 286.6,137.5 290,131.4 293.4,131.4 297.4,137.5 302.8,142.9 306.2,146 310.9,143.6 315.7,142.5"/>
<polyline stroke-width="2" points="273.1,168.6 275.8,166.5 278.2,169.2 277.8,175.3 279.9,180.1 281.2,185.5 284.6,193.6 285.3,204"/>
<polyline stroke-width="2" points="273.1,168.6 274.5,173.3 277.8,178 278.5,182.8 276.5,189.5 277.4,197.6 278.5,204"/>
<polyline stroke-width="2" points="293.4,161.8 288.6,162.5 285.3,167.9 281.9,173.3 283.9,176 290.7,179.4 297.4,182.8 302.8,182.5 304.9,180.1 301.5,176.7 297.4,171.9 294.1,165.2 293.4,161.8"/>
<polyline stroke-width="2.4" points="276.5,201.7 281.2,204"/>
<polyline stroke-width="2.4" points="300.1,201.7 302.8,204"/>
<polyline stroke-width="2" points="333.2,125.3 338,126.7 338,131.4 334.6,134.1 334.6,140.9 331.9,146.3 327.2,147.6 322.4,144.9 314.3,142.5"/>
<polyline stroke-width="2" points="361.6,192.2 363,180.1 363,169.2 365.7,164.5 371.8,162.5 376.5,162.8 381.2,166.5 385.3,171.9 389.3,176.7 395.4,179.8 398.8,176.7 402.2,169.2 408.2,162.8 415.7,162.8"/>
<polyline stroke-width="2" points="361.6,192.2 363.6,196.3 369.1,201 374.5,201 377.8,204.6"/>
<polyline stroke-width="2" points="414.3,163.8 420.4,165.2 426.5,165.9 431.9,159.5 436.6,162.5 444.7,167.9 451.5,169.2 454.2,166.5 460.9,168.6 468.4,171.7 474.5,171.7 479.9,170.6 488,176 496.1,173.3 501.5,171.7 505.5,173.6 510.3,174 512.3,169.9 515.7,169.5"/>
<polyline stroke-width="2" points="555.9,125.3 555.9,131.2 552.2,135.7 552.9,139.4 559.6,138.6 564.1,141.6 562.6,143.8 558.1,143.8 557.4,151.3 561.1,154.2 567,158.7 574.5,160.9 584.1,163.2 583.4,166.9 574.5,166.1 567.8,163.9 564.1,172.1 564.8,177.3 559.6,185.5 558.9,187.7 567,185.5 574.5,186.2 581.2,187.7 578.9,195.9 574.5,204.8"/>
<polyline stroke-width="2" points="514.3,169.9 522.4,171.3 532.8,172.8 540.3,176.5 546.2,180.3 544,185.5 549.2,189.9 556.6,190.7 559.6,187.7"/>
<polyline stroke-width="2" points="150.8,203.3 151.2,212.1 152.8,218.9 155.5,227 158.2,234.4 162.3,240.5 169.1,247.2 175.8,253.3 179.9,255.4 185.3,255.6 192,260.8 198.8,265.5 206.9,271.6 215.7,278.3"/>
<polygon stroke-width="2" points="159.6,257.4 163,254.7 166.4,255.1 166.1,258.7 163.6,261 160.3,260.1"/>
<polyline stroke-width="2.4" points="276.5,203.3 277.8,209.4 288,218.9 289.1,216.8 281.2,209.4 279.2,206"/>
<polyline stroke-width="2" points="285.3,203.3 288.6,206 285.9,209.4 281.2,205.4"/>
<polyline stroke-width="2.4" points="301.5,203.3 315.7,217.5"/>
<polyline stroke-width="2" points="308.2,203.3 315.7,210.8"/>
<polyline stroke-width="3" points="307.6,240.8 315.7,248.9"/>
<polyline stroke-width="2" points="214.3,277.6 220.4,279.7 227.2,282"/>
<polyline stroke-width="2" points="314.3,208.7 320.4,214.8 327.2,221.6 333.9,227.6 340.7,232.4 348.1,233.2"/>
<polyline stroke-width="3" points="338,233.1 348.1,233.2"/>
<polyline stroke-width="2" points="323.1,233.1 327.2,239.1 332.6,245.9 338,251.3 344.1,257.4 351.5,263.5 358.2,268.9 365,271.6 371.8,274.9 374.5,279.7 373.8,282.6"/>
<polyline stroke-width="2" points="317,220.2 322.4,227.6 325.1,233.1 329.9,234.4 335.3,233.5 335.9,230.4 331.2,228.3 325.8,221.6 320.4,216.8 317,220.2"/>
<polyline stroke-width="2.4" points="323.1,233.1 326.5,234.4"/>
<polyline stroke-width="2" points="314.3,247.2 319.1,252 324.5,257.4 328.5,260.8 329.9,262.8 327.8,263.5 324.5,260.8 321.8,257.4 317.7,253.3 314.3,250.6"/>
<polyline stroke-width="2" points="375.8,203.3 378.5,209.4 383.9,215.5 388,221.6 389.1,229 385.9,237.1 385.9,238.9 392,239.1 396.1,242.5 400.1,248.6 404.2,252 409.6,251.6 415.7,258.7"/>
<polyline stroke-width="2.4" points="414.3,257.8 435.3,282.6"/>
<polyline stroke-width="2" points="575.9,203.3 570.7,209.9 566.3,214.4 564.8,220.4 564.1,227 567.8,232.2 574.5,235.2 579.7,237.4 584.1,241.9 587.8,245.6 592.3,247.9 596.5,250.8 594.5,253.8 590.8,256.8 581.9,256.8 577.4,254.5 573.7,252.3 573,256 577.4,262.7 583.4,267.2 587.8,270.9 588.6,282.8"/>
<polyline stroke-width="2" points="223.1,281.3 229.2,282.7 233.2,288.1 237.3,295.5 240,303.6 244.1,311.7 246.8,319.8 248.1,327.9 251.5,336.1 253.5,344.2 256.9,350.9 261.6,357 263.9,360.6"/>
<polyline stroke-width="2" points="373.1,281.3 371.8,285.4 374.5,288.8 378.5,291.5 385.3,291.2 390.7,288.1 397.4,286.7 404.2,287.1 409.6,290.1 415.7,293.9"/>
<polyline stroke-width="2" points="415.7,298.9 402.2,298.9 401.5,302.3 403.5,305 408.2,306.6 415.7,307.9"/>
<polyline stroke-width="2" points="415.7,311.1 409.6,311.1 400.1,313.1 404.2,315.8 415.7,318.8"/>
<polygon stroke-width="2" points="379.9,323.2 383.9,320.9 390.7,321.2 392.3,323.2 390.7,325.9 385.3,326.6 381.2,326.6"/>
<polyline stroke-width="2" points="414.3,327.9 415.7,329.3"/>
<polyline stroke-width="2" points="433.9,281.3 438,286.1 443.4,289.4 448.8,291.5 453.5,293.5 454.2,298.2 455.5,305 459.6,309.7 465,313.8 470.4,317.8 475.8,321.9 477.8,326.6 476.5,330.6 473.1,332.7 469.1,331.3 466.4,328.6"/>
<polyline stroke-width="2" points="414.3,294.8 421.8,296.2 428.5,296.6 435.3,300.9 440.7,307 447.4,314.4 454.2,317.1 460.9,321.2 465.7,325.2 466.4,329.3 469.1,332 474.5,334 478.5,334 484.6,333.1 488,336.1 492,342.8 498.8,346.9 506.9,350.9 515.7,355.2"/>
<polyline stroke-width="2" points="414.3,299.6 427.2,300.2 431.2,303.6 429.2,307.7 414.3,307.7"/>
<polyline stroke-width="2" points="414.3,311.1 423.1,314.4 436.6,316.5 444.1,316.5 444.1,319.2 436.6,318.8 414.3,318.8"/>
<polyline stroke-width="3.2" points="437.3,317.8 443.9,317.8"/>
<polyline stroke-width="2" points="414.3,327.9 419.1,329.3 428.5,330.6 438,327.9 447.4,328.6 448.1,333.4 438,334 428.5,334.7 420.4,333.4 414.3,330"/>
<polyline stroke-width="2" points="437.3,325.2 442,323.9 450.1,325.2 458.2,327.9 465,330.6 471.8,334 477.2,335.4"/>
<polygon stroke-width="2" points="456.9,342.1 462.3,341.5 471.8,344.2 481.2,347.5 481.9,349.6 473.1,348.2 463.6,346.2 457.6,344.8"/>
<polyline stroke-width="2" points="450.1,328.6 455.5,332 462.3,336.1 469.1,338.8 475.8,340.8 482.6,342.1 489.3,344.8 496.1,348.9 502.8,352.9 509.6,357 515.7,360.4"/>
<polyline stroke-width="2" points="587.8,281.3 587.1,285 580.4,286.5 572.2,289.4 564.1,287.2 558.9,285.7 555.1,289.4 555.9,293.1 559.6,296.1 561.8,300.6 563.3,305.8 562.6,309.5 558.9,309.5 555.9,306.5 555.9,302.8 552.2,300.6 547,301.3 542.5,305 538,310.2 537.3,316.2 538,321.4 532.8,325.1 527.6,328.1 526.1,334 525.4,340 528.4,345.2 532.8,349.6 531.4,354.8 526.1,358.6 522.4,356.3 518,354.8 514.3,355.6"/>
<polyline stroke-width="2" points="572.2,289.4 574.5,293.1 581.9,298.4 587.8,302.8 593.8,308.8 597.5,314 604.2,316.2 611.6,318.4 619.1,321.8"/>
<polyline stroke-width="2" points="595.3,360.8 596,355.6 602,351.9 604.2,354.1 603.4,360.8"/>
<polyline stroke-width="2.4" points="617.6,345.9 617.6,349.6"/>
<polyline stroke-width="2" points="121.1,391.1 123.1,395.1 125.1,399.2 128.5,397.8 133.9,399.9 138.6,403.2 144.1,408 147.4,413.4 150.1,418.1 155.5,422.2 160.9,426.9 165.7,431.6 170.7,438.6"/>
<polyline stroke-width="2.4" points="160.9,407.7 163.6,407.7"/>
<polyline stroke-width="2" points="262.3,359.3 269.1,366.1 274.5,370.8 279.9,374.9 285.3,380.3 290.7,385 296.1,387 300.1,389.1 299.5,392.4 304.2,396.5 309.6,399.9 315.7,399.9"/>
<polyline stroke-width="2" points="313.6,400.5 323.1,405.4 333.9,407.3 347.4,408.1 360.9,407.3 371.8,404.6 381.2,405.4 388,410 389.3,416.8 382.6,423.5 373.1,427.6 370.4,434.3 377.2,443.8 390.7,449.2 404.2,455.9 417.7,462.7 431.2,466.8 444.7,470.8 455.5,477.6 466.4,487 479.9,493.8 493.4,497.8 498.8,501.9 500.1,507.3 506.9,514.1 516.4,520.8"/>
<polyline stroke-width="2" points="423.1,530.3 428.5,520.5 436.6,512.4 444.7,509.7 456.9,512.4 450.1,516.5 458.2,520.5 471.8,523.2 488,525.4 501.5,530.3"/>
<polyline stroke-width="2" points="313.6,511.4 317.2,515.4 316.4,522.2"/>
<polyline stroke-width="2" points="514.3,360.3 520.9,365.2 525.4,368.9 529.9,371.9 532.8,369.7 540.3,368.2 541,371.1 537.3,372.6 534.3,374.1 541.8,378.6 550.7,380.1 554.4,385.3 557.4,389 562.6,392 567,397.2 566.3,402.4 570,406.8 575.9,409.8 580.4,412 586.4,411.3 593.8,415 594.5,420.9 593.8,428.4 590.1,432.8 586.8,438.8"/>
<polyline stroke-width="2" points="524.7,359.3 524.7,366.7 529.9,371.6"/>
<polyline stroke-width="2" points="595.3,359.3 592.3,365.2 586.4,371.9 581.2,378.6 575.9,386.8 577.4,389.7 581.9,392.7 580.4,398.7 578.9,404.6 578.9,410.5"/>
<polyline stroke-width="2" points="602.7,359.3 604.2,363.7 608.7,365.9 614.6,363 619.1,361.2"/>
<polyline stroke-width="2" points="169.3,437.2 175,440.4 181.5,442.9 188,445.3 192.8,447.7 196.1,451 196.9,455 202.6,456.6 207.4,454.2 212.3,452.9 218.8,454.2 226.9,456.6 235.8,455.8"/>
<polyline stroke-width="2" points="214.2,453.4 224.7,456.6 239.3,455.5 244.2,459.9 247.4,464.8 255.5,466.4 256.3,476.9 259.6,485 265.3,487.5 271.8,486.3 279.9,489.9 284.7,493.9 281.5,498.8 278.2,502.9 283.1,504.2 291.2,502.1 297.7,499.3 303.4,498.8 308.2,502.9 313.1,510.2 316.3,518.3 314.7,524.8 312,529.6"/>
<polyline stroke-width="2" points="587.7,437.2 585.3,442.9 585.3,451.8 589.3,454.2 588.5,459.1 586.1,463.9 585.3,472.1 590.1,477.7 590.1,481 584.5,483.4 582,488.3 579.6,496.4 577.2,501.2 581.2,505.3 586.1,507.7 587.7,514.2 586.9,520.7 584.5,523.9 581.2,519.9 578,515.8 575.5,517.5 578,522.3 583.2,529.6"/>
<polyline stroke-width="2" points="504.2,511.8 511.5,515.8 518,520.7 524.8,528.8"/>
<polyline stroke-width="2" points="370.7,437.2 377.2,443.7 386.1,447.7 395.8,452.5 405.5,456.6 416,460.9"/>
<polyline stroke-width="3" points="315.3,513.9 316.3,518.8 315.8,523.6"/>
</g>
</g>
<rect x="120.5" y="465.5" width="135.5" height="65" fill="#fff" stroke="#000" stroke-width="1.4"/>
<rect x="516.5" y="51.5" width="102" height="40.5" fill="#fff" stroke="#000" stroke-width="1.2"/>
<rect x="120" y="51" width="499" height="479" fill="none" stroke="#000" stroke-width="2"/>
<g stroke="#000" stroke-width="1" shape-rendering="crispEdges">
<line x1="136.5" y1="531" x2="136.5" y2="534.5"/>
<line x1="196.5" y1="531" x2="196.5" y2="534.5"/>
<line x1="256.5" y1="531" x2="256.5" y2="534.5"/>
<line x1="317.5" y1="531" x2="317.5" y2="534.5"/>
<line x1="377.5" y1="531" x2="377.5" y2="534.5"/>
<line x1="437.5" y1="531" x2="437.5" y2="534.5"/>
<line x1="498.5" y1="531" x2="498.5" y2="534.5"/>
<line x1="558.5" y1="531" x2="558.5" y2="534.5"/>
<line x1="619.5" y1="531" x2="619.5" y2="534.5"/>
<line x1="115.5" y1="475.5" x2="119" y2="475.5"/>
<line x1="115.5" y1="401.5" x2="119" y2="401.5"/>
<line x1="115.5" y1="327.5" x2="119" y2="327.5"/>
<line x1="115.5" y1="254.5" x2="119" y2="254.5"/>
<line x1="115.5" y1="180.5" x2="119" y2="180.5"/>
<line x1="115.5" y1="106.5" x2="119" y2="106.5"/>
</g>
<g shape-rendering="geometricPrecision" text-rendering="geometricPrecision">
<text x="128.5" y="544" font-size="10.5" textLength="15.6" lengthAdjust="spacingAndGlyphs">12E</text>
<text x="188.8" y="544" font-size="10.5" textLength="15.6" lengthAdjust="spacingAndGlyphs">13E</text>
<text x="249.1" y="544" font-size="10.5" textLength="15.6" lengthAdjust="spacingAndGlyphs">14E</text>
<text x="309.4" y="544" font-size="10.5" textLength="15.6" lengthAdjust="spacingAndGlyphs">15E</text>
<text x="369.7" y="544" font-size="10.5" textLength="15.6" lengthAdjust="spacingAndGlyphs">16E</text>
<text x="430.0" y="544" font-size="10.5" textLength="15.6" lengthAdjust="spacingAndGlyphs">17E</text>
<text x="490.3" y="544" font-size="10.5" textLength="15.6" lengthAdjust="spacingAndGlyphs">18E</text>
<text x="550.6" y="544" font-size="10.5" textLength="15.6" lengthAdjust="spacingAndGlyphs">19E</text>
<text x="610.9" y="544" font-size="10.5" textLength="15.6" lengthAdjust="spacingAndGlyphs">20E</text>
<text x="96.8" y="479.6" font-size="10.5" textLength="17.3" lengthAdjust="spacingAndGlyphs">41N</text>
<text x="96.8" y="405.8" font-size="10.5" textLength="17.3" lengthAdjust="spacingAndGlyphs">42N</text>
<text x="96.8" y="331.9" font-size="10.5" textLength="17.3" lengthAdjust="spacingAndGlyphs">43N</text>
<text x="96.8" y="258.1" font-size="10.5" textLength="17.3" lengthAdjust="spacingAndGlyphs">44N</text>
<text x="96.8" y="184.2" font-size="10.5" textLength="17.3" lengthAdjust="spacingAndGlyphs">45N</text>
<text x="96.8" y="110.4" font-size="10.5" textLength="17.3" lengthAdjust="spacingAndGlyphs">46N</text>
<text x="170.4" y="40.2" font-size="15.3" textLength="97.2" lengthAdjust="spacing" stroke="#fff" stroke-width="0.3">Temperatura</text>
<text x="278.9" y="40.2" font-size="15.3" textLength="40.7" lengthAdjust="spacing" stroke="#fff" stroke-width="0.3">zraka</text>
<text x="331.8" y="40.2" font-size="15.3" textLength="17.0" lengthAdjust="spacing" stroke="#fff" stroke-width="0.3">na</text>
<text x="358.6" y="40.2" font-size="15.3" textLength="23.9" lengthAdjust="spacing" stroke="#fff" stroke-width="0.3">2m</text>
<text x="393.8" y="40.2" font-size="15.3" textLength="7.4" lengthAdjust="spacing" stroke="#fff" stroke-width="0.3">u</text>
<text x="411.6" y="40.2" font-size="15.3" textLength="19.4" lengthAdjust="spacing" stroke="#fff" stroke-width="0.3">00</text>
<text x="441.3" y="40.2" font-size="15.3" textLength="28.3" lengthAdjust="spacing" stroke="#fff" stroke-width="0.3">UTC</text>
<text x="480" y="40.2" font-size="15.3" textLength="88.6" lengthAdjust="spacing" stroke="#fff" stroke-width="0.3">25MAY2013</text>
<text x="148.4" y="482.7" font-size="9.8" textLength="100.0" lengthAdjust="spacing" xml:space="preserve">Temperatura zraka</text>
<text x="172.8" y="496.5" font-size="9.8" textLength="75.6" lengthAdjust="spacing" xml:space="preserve">na 2m (st. C)</text>
<text x="137.3" y="510.3" font-size="9.8" textLength="111.1" lengthAdjust="spacing" xml:space="preserve">start 00z24may2013</text>
<text x="129.2" y="524.1" font-size="9.8" textLength="119.2" lengthAdjust="spacing" xml:space="preserve">termin 00Z25MAY2013</text>
<g fill="none" stroke="#1E3CFF" stroke-width="1.3"><circle cx="537" cy="71.5" r="6.6"/><path d="M539.6 69.6 A3.2 3.2 0 1 0 539.6 73.4" stroke-width="1.6"/></g>
<text x="548.6" y="78.1" font-size="19.6" textLength="56.6" lengthAdjust="spacing" style="fill:#1E3CFF;stroke:#1E3CFF;stroke-width:0.4">DHMZ</text>
</g>
<g shape-rendering="crispEdges">
<rect x="652" y="77" width="15" height="19" fill="#FFEBD7"/>
<rect x="652" y="96" width="15" height="18" fill="#D8BFD8"/>
<rect x="652" y="114" width="15" height="19" fill="#DDA0DD"/>
<rect x="652" y="133" width="15" height="19" fill="#BA55D3"/>
<rect x="652" y="152" width="15" height="18" fill="#8B008B"/>
<rect x="652" y="170" width="15" height="19" fill="#960000"/>
<rect x="652" y="189" width="15" height="18" fill="#CD0000"/>
<rect x="652" y="207" width="15" height="19" fill="#FF0000"/>
<rect x="652" y="226" width="15" height="19" fill="#FF5A00"/>
<rect x="652" y="245" width="15" height="18" fill="#F08228"/>
<rect x="652" y="263" width="15" height="19" fill="#E6AF2D"/>
<rect x="652" y="282" width="15" height="19" fill="#E6DC32"/>
<rect x="652" y="301" width="15" height="18" fill="#F5EB5A"/>
<rect x="652" y="319" width="15" height="19" fill="#E1F5A5"/>
<rect x="652" y="338" width="15" height="19" fill="#A0E632"/>
<rect x="652" y="357" width="15" height="18" fill="#00DC00"/>
<rect x="652" y="375" width="15" height="19" fill="#00AA00"/>
<rect x="652" y="394" width="15" height="19" fill="#007800"/>
<rect x="652" y="413" width="15" height="18" fill="#1E3CFF"/>
<rect x="652" y="431" width="15" height="19" fill="#00A0FF"/>
<rect x="652" y="450" width="15" height="19" fill="#B0E0E6"/>
<rect x="652" y="469" width="15" height="18" fill="#F0FFFF"/>
</g>
<g shape-rendering="geometricPrecision">
<text x="670.3" y="81.3" font-size="12" textLength="14.2" lengthAdjust="spacingAndGlyphs">29</text>
<text x="670.3" y="100.0" font-size="12" textLength="14.2" lengthAdjust="spacingAndGlyphs">27</text>
<text x="670.3" y="118.6" font-size="12" textLength="14.2" lengthAdjust="spacingAndGlyphs">25</text>
<text x="670.3" y="137.2" font-size="12" textLength="14.2" lengthAdjust="spacingAndGlyphs">23</text>
<text x="670.3" y="155.9" font-size="12" textLength="14.2" lengthAdjust="spacingAndGlyphs">21</text>
<text x="670.3" y="174.6" font-size="12" textLength="14.2" lengthAdjust="spacingAndGlyphs">19</text>
<text x="670.3" y="193.2" font-size="12" textLength="14.2" lengthAdjust="spacingAndGlyphs">17</text>
<text x="670.3" y="211.8" font-size="12" textLength="14.2" lengthAdjust="spacingAndGlyphs">15</text>
<text x="670.3" y="230.5" font-size="12" textLength="14.2" lengthAdjust="spacingAndGlyphs">13</text>
<text x="670.3" y="249.2" font-size="12" textLength="14.2" lengthAdjust="spacingAndGlyphs">11</text>
<text x="670.3" y="267.8" font-size="12" textLength="6.5" lengthAdjust="spacingAndGlyphs">9</text>
<text x="670.3" y="286.4" font-size="12" textLength="6.5" lengthAdjust="spacingAndGlyphs">7</text>
<text x="670.3" y="305.1" font-size="12" textLength="6.5" lengthAdjust="spacingAndGlyphs">5</text>
<text x="670.3" y="323.8" font-size="12" textLength="6.5" lengthAdjust="spacingAndGlyphs">3</text>
<text x="670.3" y="342.4" font-size="12" textLength="6.5" lengthAdjust="spacingAndGlyphs">1</text>
<text x="670.3" y="361.0" font-size="12" textLength="16.0" lengthAdjust="spacingAndGlyphs">−1</text>
<text x="670.3" y="379.7" font-size="12" textLength="16.0" lengthAdjust="spacingAndGlyphs">−3</text>
<text x="670.3" y="398.3" font-size="12" textLength="16.0" lengthAdjust="spacingAndGlyphs">−5</text>
<text x="670.3" y="417.0" font-size="12" textLength="16.0" lengthAdjust="spacingAndGlyphs">−7</text>
<text x="670.3" y="435.6" font-size="12" textLength="16.0" lengthAdjust="spacingAndGlyphs">−9</text>
<text x="670.3" y="454.3" font-size="12" textLength="23.7" lengthAdjust="spacingAndGlyphs">−11</text>
<text x="670.3" y="472.9" font-size="12" textLength="23.7" lengthAdjust="spacingAndGlyphs">−13</text>
<text x="670.3" y="491.6" font-size="12" textLength="23.7" lengthAdjust="spacingAndGlyphs">−15</text>
<text x="670.3" y="510.2" font-size="12" textLength="23.7" lengthAdjust="spacingAndGlyphs">−17</text>
<text x="664" y="528.5" font-size="9.8" textLength="35" lengthAdjust="spacing" xml:space="preserve">(st. C)</text>
</g>
</svg>
</body></html>
